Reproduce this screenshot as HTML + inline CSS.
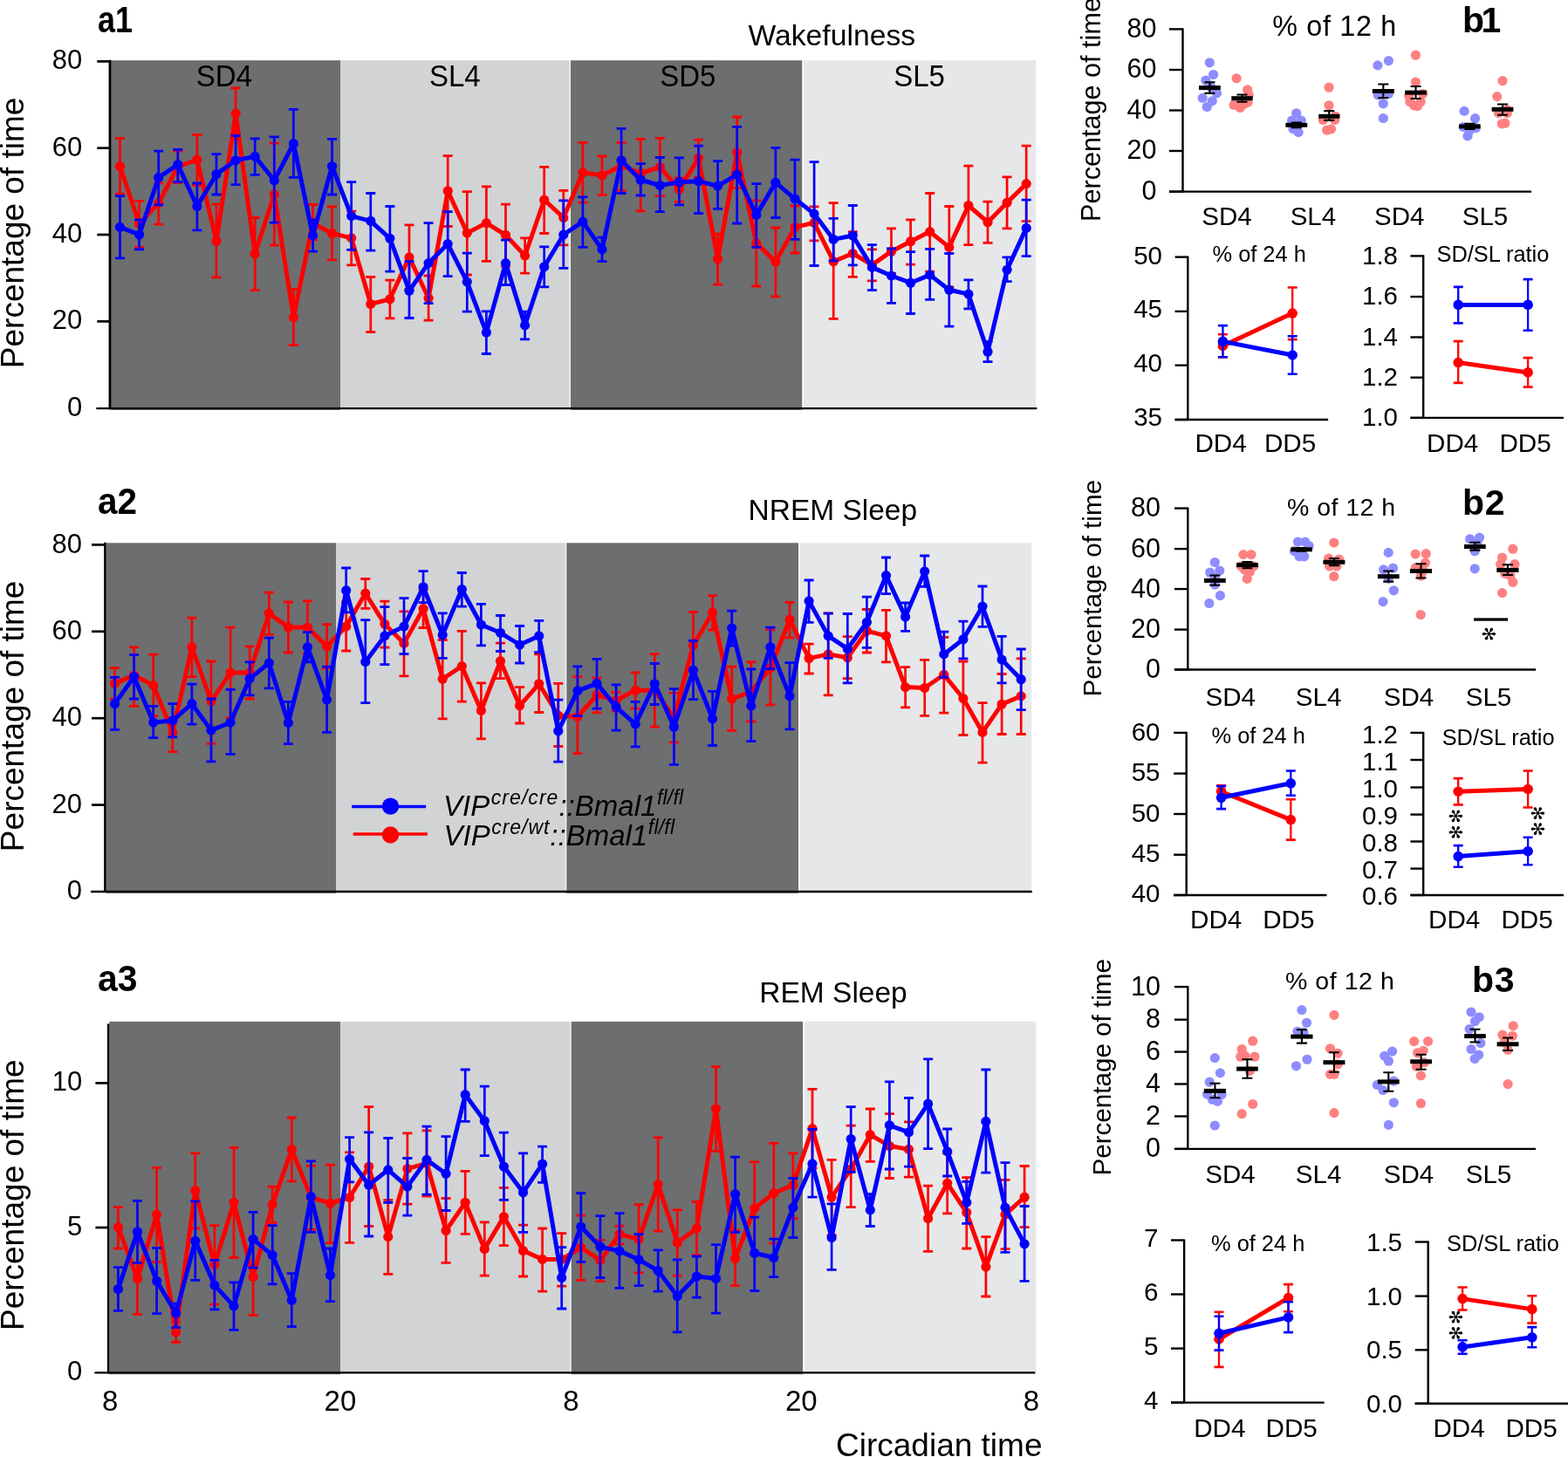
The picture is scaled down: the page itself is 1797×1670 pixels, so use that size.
<!DOCTYPE html>
<html><head><meta charset="utf-8"><title>Figure</title>
<style>html,body{margin:0;padding:0;background:#fff;overflow:hidden;}svg{display:block;}
text{font-family:'Liberation Sans', Arial, Helvetica, sans-serif;fill:#000;}</style></head>
<body><svg xmlns="http://www.w3.org/2000/svg" width="1797" height="1670" viewBox="0 0 1797 1670">
<rect x="0" y="0" width="1797" height="1670" fill="#fff"/>
<rect x="127.5" y="69.2" width="262.5" height="400.7" fill="#6d6e70"/>
<rect x="390" y="69.2" width="262.8" height="398.5" fill="#d1d3d4"/>
<rect x="652.8" y="69.2" width="1.1" height="398.5" fill="#fff"/>
<rect x="653.9" y="69.2" width="265.6" height="400.7" fill="#6d6e70"/>
<rect x="919.5" y="69.2" width="1.6" height="398.5" fill="#fff"/>
<rect x="921.1" y="69.2" width="266.2" height="398.5" fill="#e6e7e8"/>
<path d="M137.5 158.3V222.1M159.6 230.3V283.4M181.7 210V257.2M203.8 173.2V209.6M225.9 154.5V212.5M248 234.2V317.9M270.1 101V159M292.2 249.5V332.6M314.3 164.2V281.1M336.4 331.3V395.5M358.5 234.5V274.8M380.6 236.8V297.8M402.7 242.2V303.9M424.8 317.3V380.6M446.9 321.2V364.8M469 257.9V331.9M491.1 316V367.1M513.2 178.6V259.5M535.3 219.6V315M557.4 213.9V299.3M579.5 234.2V305.1M601.6 272.9V313.1M623.7 191.4V267.5M645.8 218.3V280.9M667.9 163.3V232.2M690 179V223.4M712.1 163.3V218.3M734.2 159.4V241.8M756.3 158.3V224.6M778.4 203.9V231.1M800.5 160.2V203.5M822.6 268.1V326.1M844.7 134V215.4M866.8 229.8V328M888.9 261V339.9M911 236V290M933.1 236.9V275.8M955.2 232.6V365.3M977.3 265.6V317.4M999.4 285.9V321.8M1021.5 261.8V313.5M1043.6 251.8V303.2M1065.7 221.5V311.2M1087.8 236.5V328.8M1109.9 190.1V280.6M1132 231.1V278.3M1154.1 202.9V261.8M1176.2 167.1V253.7" stroke="#ff0000" stroke-width="2.7" fill="none"/>
<path d="M132 158.3h11M132 222.1h11M154.1 230.3h11M154.1 283.4h11M176.2 210h11M176.2 257.2h11M198.3 173.2h11M198.3 209.6h11M220.4 154.5h11M220.4 212.5h11M242.5 234.2h11M242.5 317.9h11M264.6 101h11M264.6 159h11M286.7 249.5h11M286.7 332.6h11M308.8 164.2h11M308.8 281.1h11M330.9 331.3h11M330.9 395.5h11M353 234.5h11M353 274.8h11M375.1 236.8h11M375.1 297.8h11M397.2 242.2h11M397.2 303.9h11M419.3 317.3h11M419.3 380.6h11M441.4 321.2h11M441.4 364.8h11M463.5 257.9h11M463.5 331.9h11M485.6 316h11M485.6 367.1h11M507.7 178.6h11M507.7 259.5h11M529.8 219.6h11M529.8 315h11M551.9 213.9h11M551.9 299.3h11M574 234.2h11M574 305.1h11M596.1 272.9h11M596.1 313.1h11M618.2 191.4h11M618.2 267.5h11M640.3 218.3h11M640.3 280.9h11M662.4 163.3h11M662.4 232.2h11M684.5 179h11M684.5 223.4h11M706.6 163.3h11M706.6 218.3h11M728.7 159.4h11M728.7 241.8h11M750.8 158.3h11M750.8 224.6h11M772.9 203.9h11M772.9 231.1h11M795 160.2h11M795 203.5h11M817.1 268.1h11M817.1 326.1h11M839.2 134h11M839.2 215.4h11M861.3 229.8h11M861.3 328h11M883.4 261h11M883.4 339.9h11M905.5 236h11M905.5 290h11M927.6 236.9h11M927.6 275.8h11M949.7 232.6h11M949.7 365.3h11M971.8 265.6h11M971.8 317.4h11M993.9 285.9h11M993.9 321.8h11M1016 261.8h11M1016 313.5h11M1038.1 251.8h11M1038.1 303.2h11M1060.2 221.5h11M1060.2 311.2h11M1082.3 236.5h11M1082.3 328.8h11M1104.4 190.1h11M1104.4 280.6h11M1126.5 231.1h11M1126.5 278.3h11M1148.6 202.9h11M1148.6 261.8h11M1170.7 167.1h11M1170.7 253.7h11" stroke="#ff0000" stroke-width="2.8" fill="none"/>
<polyline points="137.5,190.5 159.6,256.6 181.7,232.6 203.8,191 225.9,183.2 248,276.3 270.1,130.1 292.2,291.1 314.3,222.7 336.4,363.9 358.5,255.6 380.6,267.5 402.7,272.9 424.8,348.5 446.9,342.8 469,294.9 491.1,341.8 513.2,218.8 535.3,267.1 557.4,255.6 579.5,269.4 601.6,293 623.7,229.2 645.8,249.5 667.9,197.8 690,201 712.1,190 734.2,198.5 756.3,191.4 778.4,217.3 800.5,181.3 822.6,296.8 844.7,174.8 866.8,278.6 888.9,300.1 911,260.4 933.1,255.3 955.2,299.7 977.3,290.5 999.4,303.6 1021.5,288.2 1043.6,276.7 1065.7,265.6 1087.8,283.4 1109.9,235.5 1132,254.7 1154.1,232.3 1176.2,210.6" stroke="#ff0000" stroke-width="5" fill="none" stroke-linejoin="round"/>
<circle cx="137.5" cy="190.5" r="5.6" fill="#ff0000"/>
<circle cx="159.6" cy="256.6" r="5.6" fill="#ff0000"/>
<circle cx="181.7" cy="232.6" r="5.6" fill="#ff0000"/>
<circle cx="203.8" cy="191" r="5.6" fill="#ff0000"/>
<circle cx="225.9" cy="183.2" r="5.6" fill="#ff0000"/>
<circle cx="248" cy="276.3" r="5.6" fill="#ff0000"/>
<circle cx="270.1" cy="130.1" r="5.6" fill="#ff0000"/>
<circle cx="292.2" cy="291.1" r="5.6" fill="#ff0000"/>
<circle cx="314.3" cy="222.7" r="5.6" fill="#ff0000"/>
<circle cx="336.4" cy="363.9" r="5.6" fill="#ff0000"/>
<circle cx="358.5" cy="255.6" r="5.6" fill="#ff0000"/>
<circle cx="380.6" cy="267.5" r="5.6" fill="#ff0000"/>
<circle cx="402.7" cy="272.9" r="5.6" fill="#ff0000"/>
<circle cx="424.8" cy="348.5" r="5.6" fill="#ff0000"/>
<circle cx="446.9" cy="342.8" r="5.6" fill="#ff0000"/>
<circle cx="469" cy="294.9" r="5.6" fill="#ff0000"/>
<circle cx="491.1" cy="341.8" r="5.6" fill="#ff0000"/>
<circle cx="513.2" cy="218.8" r="5.6" fill="#ff0000"/>
<circle cx="535.3" cy="267.1" r="5.6" fill="#ff0000"/>
<circle cx="557.4" cy="255.6" r="5.6" fill="#ff0000"/>
<circle cx="579.5" cy="269.4" r="5.6" fill="#ff0000"/>
<circle cx="601.6" cy="293" r="5.6" fill="#ff0000"/>
<circle cx="623.7" cy="229.2" r="5.6" fill="#ff0000"/>
<circle cx="645.8" cy="249.5" r="5.6" fill="#ff0000"/>
<circle cx="667.9" cy="197.8" r="5.6" fill="#ff0000"/>
<circle cx="690" cy="201" r="5.6" fill="#ff0000"/>
<circle cx="712.1" cy="190" r="5.6" fill="#ff0000"/>
<circle cx="734.2" cy="198.5" r="5.6" fill="#ff0000"/>
<circle cx="756.3" cy="191.4" r="5.6" fill="#ff0000"/>
<circle cx="778.4" cy="217.3" r="5.6" fill="#ff0000"/>
<circle cx="800.5" cy="181.3" r="5.6" fill="#ff0000"/>
<circle cx="822.6" cy="296.8" r="5.6" fill="#ff0000"/>
<circle cx="844.7" cy="174.8" r="5.6" fill="#ff0000"/>
<circle cx="866.8" cy="278.6" r="5.6" fill="#ff0000"/>
<circle cx="888.9" cy="300.1" r="5.6" fill="#ff0000"/>
<circle cx="911" cy="260.4" r="5.6" fill="#ff0000"/>
<circle cx="933.1" cy="255.3" r="5.6" fill="#ff0000"/>
<circle cx="955.2" cy="299.7" r="5.6" fill="#ff0000"/>
<circle cx="977.3" cy="290.5" r="5.6" fill="#ff0000"/>
<circle cx="999.4" cy="303.6" r="5.6" fill="#ff0000"/>
<circle cx="1021.5" cy="288.2" r="5.6" fill="#ff0000"/>
<circle cx="1043.6" cy="276.7" r="5.6" fill="#ff0000"/>
<circle cx="1065.7" cy="265.6" r="5.6" fill="#ff0000"/>
<circle cx="1087.8" cy="283.4" r="5.6" fill="#ff0000"/>
<circle cx="1109.9" cy="235.5" r="5.6" fill="#ff0000"/>
<circle cx="1132" cy="254.7" r="5.6" fill="#ff0000"/>
<circle cx="1154.1" cy="232.3" r="5.6" fill="#ff0000"/>
<circle cx="1176.2" cy="210.6" r="5.6" fill="#ff0000"/>
<path d="M137.5 224.6V295.9M159.6 251.8V285.9M181.7 173.2V234.9M203.8 171.3V208.7M225.9 210V263.9M248 176.7V223M270.1 155.6V211.6M292.2 158.9V200.4M314.3 156.9V255.2M336.4 125.3V203.3M358.5 251.8V288.2M380.6 159.4V223M402.7 208.7V286.3M424.8 221.5V287.2M446.9 236.5V311.2M469 299.7V364.5M491.1 255.6V347.6M513.2 242.6V316.6M535.3 290.1V357.2M557.4 356.8V405.5M579.5 275.2V326.5M601.6 357.2V388.8M623.7 282.8V328.8M645.8 229.8V307.4M667.9 225.9V283.4M690 272.1V299.7M712.1 147.4V221.5M734.2 187.6V224M756.3 180.5V242.6M778.4 180.9V234.9M800.5 167.1V244.5M822.6 184.7V239.3M844.7 145.4V256M866.8 210.6V283.4M888.9 169.4V249.5M911 183.2V274.4M933.1 185.7V304.5M955.2 250.3V298.8M977.3 235.5V303.9M999.4 280.6V332.7M1021.5 284.8V347.3M1043.6 288.6V359.5M1065.7 285.4V343.4M1087.8 290.5V374.1M1109.9 320.8V353.8M1132 391.7V414.7M1154.1 294.9V322.7M1176.2 229.2V293.6" stroke="#0000ff" stroke-width="2.7" fill="none"/>
<path d="M132 224.6h11M132 295.9h11M154.1 251.8h11M154.1 285.9h11M176.2 173.2h11M176.2 234.9h11M198.3 171.3h11M198.3 208.7h11M220.4 210h11M220.4 263.9h11M242.5 176.7h11M242.5 223h11M264.6 155.6h11M264.6 211.6h11M286.7 158.9h11M286.7 200.4h11M308.8 156.9h11M308.8 255.2h11M330.9 125.3h11M330.9 203.3h11M353 251.8h11M353 288.2h11M375.1 159.4h11M375.1 223h11M397.2 208.7h11M397.2 286.3h11M419.3 221.5h11M419.3 287.2h11M441.4 236.5h11M441.4 311.2h11M463.5 299.7h11M463.5 364.5h11M485.6 255.6h11M485.6 347.6h11M507.7 242.6h11M507.7 316.6h11M529.8 290.1h11M529.8 357.2h11M551.9 356.8h11M551.9 405.5h11M574 275.2h11M574 326.5h11M596.1 357.2h11M596.1 388.8h11M618.2 282.8h11M618.2 328.8h11M640.3 229.8h11M640.3 307.4h11M662.4 225.9h11M662.4 283.4h11M684.5 272.1h11M684.5 299.7h11M706.6 147.4h11M706.6 221.5h11M728.7 187.6h11M728.7 224h11M750.8 180.5h11M750.8 242.6h11M772.9 180.9h11M772.9 234.9h11M795 167.1h11M795 244.5h11M817.1 184.7h11M817.1 239.3h11M839.2 145.4h11M839.2 256h11M861.3 210.6h11M861.3 283.4h11M883.4 169.4h11M883.4 249.5h11M905.5 183.2h11M905.5 274.4h11M927.6 185.7h11M927.6 304.5h11M949.7 250.3h11M949.7 298.8h11M971.8 235.5h11M971.8 303.9h11M993.9 280.6h11M993.9 332.7h11M1016 284.8h11M1016 347.3h11M1038.1 288.6h11M1038.1 359.5h11M1060.2 285.4h11M1060.2 343.4h11M1082.3 290.5h11M1082.3 374.1h11M1104.4 320.8h11M1104.4 353.8h11M1126.5 391.7h11M1126.5 414.7h11M1148.6 294.9h11M1148.6 322.7h11M1170.7 229.2h11M1170.7 293.6h11" stroke="#0000ff" stroke-width="2.8" fill="none"/>
<polyline points="137.5,260.4 159.6,269 181.7,203.5 203.8,188.6 225.9,236.5 248,199.7 270.1,183.8 292.2,179.4 314.3,206.8 336.4,164.6 358.5,270 380.6,190.5 402.7,247.6 424.8,253.3 446.9,273.3 469,333.2 491.1,301.6 513.2,279.6 535.3,323.1 557.4,381.1 579.5,301.6 601.6,372.9 623.7,305.8 645.8,269 667.9,254.1 690,285.9 712.1,183.8 734.2,206.2 756.3,212.5 778.4,208.7 800.5,207.7 822.6,213.1 844.7,200.1 866.8,246.4 888.9,209.3 911,227.8 933.1,245.1 955.2,274.4 977.3,270 999.4,306.4 1021.5,316 1043.6,324.2 1065.7,315.1 1087.8,332.3 1109.9,337.1 1132,403.2 1154.1,309.3 1176.2,261.4" stroke="#0000ff" stroke-width="5" fill="none" stroke-linejoin="round"/>
<circle cx="137.5" cy="260.4" r="5.6" fill="#0000ff"/>
<circle cx="159.6" cy="269" r="5.6" fill="#0000ff"/>
<circle cx="181.7" cy="203.5" r="5.6" fill="#0000ff"/>
<circle cx="203.8" cy="188.6" r="5.6" fill="#0000ff"/>
<circle cx="225.9" cy="236.5" r="5.6" fill="#0000ff"/>
<circle cx="248" cy="199.7" r="5.6" fill="#0000ff"/>
<circle cx="270.1" cy="183.8" r="5.6" fill="#0000ff"/>
<circle cx="292.2" cy="179.4" r="5.6" fill="#0000ff"/>
<circle cx="314.3" cy="206.8" r="5.6" fill="#0000ff"/>
<circle cx="336.4" cy="164.6" r="5.6" fill="#0000ff"/>
<circle cx="358.5" cy="270" r="5.6" fill="#0000ff"/>
<circle cx="380.6" cy="190.5" r="5.6" fill="#0000ff"/>
<circle cx="402.7" cy="247.6" r="5.6" fill="#0000ff"/>
<circle cx="424.8" cy="253.3" r="5.6" fill="#0000ff"/>
<circle cx="446.9" cy="273.3" r="5.6" fill="#0000ff"/>
<circle cx="469" cy="333.2" r="5.6" fill="#0000ff"/>
<circle cx="491.1" cy="301.6" r="5.6" fill="#0000ff"/>
<circle cx="513.2" cy="279.6" r="5.6" fill="#0000ff"/>
<circle cx="535.3" cy="323.1" r="5.6" fill="#0000ff"/>
<circle cx="557.4" cy="381.1" r="5.6" fill="#0000ff"/>
<circle cx="579.5" cy="301.6" r="5.6" fill="#0000ff"/>
<circle cx="601.6" cy="372.9" r="5.6" fill="#0000ff"/>
<circle cx="623.7" cy="305.8" r="5.6" fill="#0000ff"/>
<circle cx="645.8" cy="269" r="5.6" fill="#0000ff"/>
<circle cx="667.9" cy="254.1" r="5.6" fill="#0000ff"/>
<circle cx="690" cy="285.9" r="5.6" fill="#0000ff"/>
<circle cx="712.1" cy="183.8" r="5.6" fill="#0000ff"/>
<circle cx="734.2" cy="206.2" r="5.6" fill="#0000ff"/>
<circle cx="756.3" cy="212.5" r="5.6" fill="#0000ff"/>
<circle cx="778.4" cy="208.7" r="5.6" fill="#0000ff"/>
<circle cx="800.5" cy="207.7" r="5.6" fill="#0000ff"/>
<circle cx="822.6" cy="213.1" r="5.6" fill="#0000ff"/>
<circle cx="844.7" cy="200.1" r="5.6" fill="#0000ff"/>
<circle cx="866.8" cy="246.4" r="5.6" fill="#0000ff"/>
<circle cx="888.9" cy="209.3" r="5.6" fill="#0000ff"/>
<circle cx="911" cy="227.8" r="5.6" fill="#0000ff"/>
<circle cx="933.1" cy="245.1" r="5.6" fill="#0000ff"/>
<circle cx="955.2" cy="274.4" r="5.6" fill="#0000ff"/>
<circle cx="977.3" cy="270" r="5.6" fill="#0000ff"/>
<circle cx="999.4" cy="306.4" r="5.6" fill="#0000ff"/>
<circle cx="1021.5" cy="316" r="5.6" fill="#0000ff"/>
<circle cx="1043.6" cy="324.2" r="5.6" fill="#0000ff"/>
<circle cx="1065.7" cy="315.1" r="5.6" fill="#0000ff"/>
<circle cx="1087.8" cy="332.3" r="5.6" fill="#0000ff"/>
<circle cx="1109.9" cy="337.1" r="5.6" fill="#0000ff"/>
<circle cx="1132" cy="403.2" r="5.6" fill="#0000ff"/>
<circle cx="1154.1" cy="309.3" r="5.6" fill="#0000ff"/>
<circle cx="1176.2" cy="261.4" r="5.6" fill="#0000ff"/>
<line x1="126.1" y1="68.7" x2="126.1" y2="469.2" stroke="#000" stroke-width="3"/>
<line x1="111.3" y1="468.1" x2="1187.4" y2="468.1" stroke="#000" stroke-width="2.4" stroke-linecap="round"/>
<line x1="111.3" y1="70.4" x2="126.1" y2="70.4" stroke="#000" stroke-width="2.7"/>
<line x1="111.3" y1="169.7" x2="126.1" y2="169.7" stroke="#000" stroke-width="2.7"/>
<line x1="111.3" y1="269" x2="126.1" y2="269" stroke="#000" stroke-width="2.7"/>
<line x1="111.3" y1="368.4" x2="126.1" y2="368.4" stroke="#000" stroke-width="2.7"/>
<text x="94.3" y="79.3" font-size="31" text-anchor="end">80</text>
<text x="94.3" y="178.6" font-size="31" text-anchor="end">60</text>
<text x="94.3" y="277.9" font-size="31" text-anchor="end">40</text>
<text x="94.3" y="377.3" font-size="31" text-anchor="end">20</text>
<text x="94.3" y="476.6" font-size="31" text-anchor="end">0</text>
<rect x="121.7" y="622.3" width="263.3" height="401.5" fill="#6d6e70"/>
<rect x="385" y="622.3" width="262.9" height="399.3" fill="#d1d3d4"/>
<rect x="647.9" y="622.3" width="1.4" height="399.3" fill="#f3f4f4"/>
<rect x="649.3" y="622.3" width="265.7" height="401.5" fill="#6d6e70"/>
<rect x="915" y="622.3" width="2" height="399.3" fill="#f6f6f6"/>
<rect x="917" y="622.3" width="265.2" height="399.3" fill="#e6e7e8"/>
<path d="M131.5 765.5V801M153.6 741.8V809.4M175.7 750.2V820.7M197.8 822.3V861.7M219.9 708.2V775.6M242 758V852.4M264.1 719.1V822.8M286.2 740.9V801M308.3 679.1V727.3M330.4 690V748M352.5 688.9V749.3M374.6 715.6V765.8M396.7 690V746M418.8 663.5V697.3M440.9 689.2V742.1M463 700.9V774.8M485.1 675.9V719.5M507.2 733.5V823.9M529.3 723.4V804.1M551.4 782.9V846.8M573.5 737.1V777.6M595.6 787.6V829M617.7 749.9V816.5M639.8 783.4V855.5M661.9 775.6V863.6M684 777.1V816.9M706.1 793.5V815M728.2 770.9V812.2M750.3 749.6V833.2M772.4 794.3V850.9M794.5 701.3V777.9M816.6 682.6V722.2M838.7 764.2V837.4M860.8 758.9V827M882.9 721.9V807.8M905 690.4V730.9M927.1 738.2V772M949.2 702.9V796.9M971.3 729.7V777.6M993.4 698.5V748M1015.5 699.3V758.9M1037.6 764.7V810.9M1059.7 756.4V820.3M1081.8 730.4V817.2M1103.9 758V842.5M1126 805.6V874.2M1148.1 772.5V841.5M1170.2 754.9V841.5" stroke="#ff0000" stroke-width="2.7" fill="none"/>
<path d="M126 765.5h11M126 801h11M148.1 741.8h11M148.1 809.4h11M170.2 750.2h11M170.2 820.7h11M192.3 822.3h11M192.3 861.7h11M214.4 708.2h11M214.4 775.6h11M236.5 758h11M236.5 852.4h11M258.6 719.1h11M258.6 822.8h11M280.7 740.9h11M280.7 801h11M302.8 679.1h11M302.8 727.3h11M324.9 690h11M324.9 748h11M347 688.9h11M347 749.3h11M369.1 715.6h11M369.1 765.8h11M391.2 690h11M391.2 746h11M413.3 663.5h11M413.3 697.3h11M435.4 689.2h11M435.4 742.1h11M457.5 700.9h11M457.5 774.8h11M479.6 675.9h11M479.6 719.5h11M501.7 733.5h11M501.7 823.9h11M523.8 723.4h11M523.8 804.1h11M545.9 782.9h11M545.9 846.8h11M568 737.1h11M568 777.6h11M590.1 787.6h11M590.1 829h11M612.2 749.9h11M612.2 816.5h11M634.3 783.4h11M634.3 855.5h11M656.4 775.6h11M656.4 863.6h11M678.5 777.1h11M678.5 816.9h11M700.6 793.5h11M700.6 815h11M722.7 770.9h11M722.7 812.2h11M744.8 749.6h11M744.8 833.2h11M766.9 794.3h11M766.9 850.9h11M789 701.3h11M789 777.9h11M811.1 682.6h11M811.1 722.2h11M833.2 764.2h11M833.2 837.4h11M855.3 758.9h11M855.3 827h11M877.4 721.9h11M877.4 807.8h11M899.5 690.4h11M899.5 730.9h11M921.6 738.2h11M921.6 772h11M943.7 702.9h11M943.7 796.9h11M965.8 729.7h11M965.8 777.6h11M987.9 698.5h11M987.9 748h11M1010 699.3h11M1010 758.9h11M1032.1 764.7h11M1032.1 810.9h11M1054.2 756.4h11M1054.2 820.3h11M1076.3 730.4h11M1076.3 817.2h11M1098.4 758h11M1098.4 842.5h11M1120.5 805.6h11M1120.5 874.2h11M1142.6 772.5h11M1142.6 841.5h11M1164.7 754.9h11M1164.7 841.5h11" stroke="#ff0000" stroke-width="2.8" fill="none"/>
<polyline points="131.5,783.4 153.6,774 175.7,785.4 197.8,839.4 219.9,741.8 242,804.1 264.1,770.9 286.2,770.9 308.3,702.9 330.4,719.1 352.5,719.1 374.6,740.9 396.7,718 418.8,680.1 440.9,715.3 463,737.4 485.1,697.7 507.2,778.2 529.3,763.6 551.4,814.5 573.5,757.7 595.6,808.8 617.7,783.8 639.8,820 661.9,821.5 684,796.6 706.1,802.8 728.2,791.2 750.3,791.2 772.4,822.6 794.5,739.8 816.6,701.9 838.7,801 860.8,792.9 882.9,765.5 905,710.2 927.1,754.6 949.2,749.9 971.3,753.8 993.4,723.1 1015.5,728.9 1037.6,787.6 1059.7,788.5 1081.8,773.3 1103.9,800.5 1126,839.4 1148.1,807.2 1170.2,797.9" stroke="#ff0000" stroke-width="5" fill="none" stroke-linejoin="round"/>
<circle cx="131.5" cy="783.4" r="5.6" fill="#ff0000"/>
<circle cx="153.6" cy="774" r="5.6" fill="#ff0000"/>
<circle cx="175.7" cy="785.4" r="5.6" fill="#ff0000"/>
<circle cx="197.8" cy="839.4" r="5.6" fill="#ff0000"/>
<circle cx="219.9" cy="741.8" r="5.6" fill="#ff0000"/>
<circle cx="242" cy="804.1" r="5.6" fill="#ff0000"/>
<circle cx="264.1" cy="770.9" r="5.6" fill="#ff0000"/>
<circle cx="286.2" cy="770.9" r="5.6" fill="#ff0000"/>
<circle cx="308.3" cy="702.9" r="5.6" fill="#ff0000"/>
<circle cx="330.4" cy="719.1" r="5.6" fill="#ff0000"/>
<circle cx="352.5" cy="719.1" r="5.6" fill="#ff0000"/>
<circle cx="374.6" cy="740.9" r="5.6" fill="#ff0000"/>
<circle cx="396.7" cy="718" r="5.6" fill="#ff0000"/>
<circle cx="418.8" cy="680.1" r="5.6" fill="#ff0000"/>
<circle cx="440.9" cy="715.3" r="5.6" fill="#ff0000"/>
<circle cx="463" cy="737.4" r="5.6" fill="#ff0000"/>
<circle cx="485.1" cy="697.7" r="5.6" fill="#ff0000"/>
<circle cx="507.2" cy="778.2" r="5.6" fill="#ff0000"/>
<circle cx="529.3" cy="763.6" r="5.6" fill="#ff0000"/>
<circle cx="551.4" cy="814.5" r="5.6" fill="#ff0000"/>
<circle cx="573.5" cy="757.7" r="5.6" fill="#ff0000"/>
<circle cx="595.6" cy="808.8" r="5.6" fill="#ff0000"/>
<circle cx="617.7" cy="783.8" r="5.6" fill="#ff0000"/>
<circle cx="639.8" cy="820" r="5.6" fill="#ff0000"/>
<circle cx="661.9" cy="821.5" r="5.6" fill="#ff0000"/>
<circle cx="684" cy="796.6" r="5.6" fill="#ff0000"/>
<circle cx="706.1" cy="802.8" r="5.6" fill="#ff0000"/>
<circle cx="728.2" cy="791.2" r="5.6" fill="#ff0000"/>
<circle cx="750.3" cy="791.2" r="5.6" fill="#ff0000"/>
<circle cx="772.4" cy="822.6" r="5.6" fill="#ff0000"/>
<circle cx="794.5" cy="739.8" r="5.6" fill="#ff0000"/>
<circle cx="816.6" cy="701.9" r="5.6" fill="#ff0000"/>
<circle cx="838.7" cy="801" r="5.6" fill="#ff0000"/>
<circle cx="860.8" cy="792.9" r="5.6" fill="#ff0000"/>
<circle cx="882.9" cy="765.5" r="5.6" fill="#ff0000"/>
<circle cx="905" cy="710.2" r="5.6" fill="#ff0000"/>
<circle cx="927.1" cy="754.6" r="5.6" fill="#ff0000"/>
<circle cx="949.2" cy="749.9" r="5.6" fill="#ff0000"/>
<circle cx="971.3" cy="753.8" r="5.6" fill="#ff0000"/>
<circle cx="993.4" cy="723.1" r="5.6" fill="#ff0000"/>
<circle cx="1015.5" cy="728.9" r="5.6" fill="#ff0000"/>
<circle cx="1037.6" cy="787.6" r="5.6" fill="#ff0000"/>
<circle cx="1059.7" cy="788.5" r="5.6" fill="#ff0000"/>
<circle cx="1081.8" cy="773.3" r="5.6" fill="#ff0000"/>
<circle cx="1103.9" cy="800.5" r="5.6" fill="#ff0000"/>
<circle cx="1126" cy="839.4" r="5.6" fill="#ff0000"/>
<circle cx="1148.1" cy="807.2" r="5.6" fill="#ff0000"/>
<circle cx="1170.2" cy="797.9" r="5.6" fill="#ff0000"/>
<path d="M131.5 776.4V836.3M153.6 750.7V801M175.7 809.4V845.7M197.8 806.7V844.9M219.9 784.2V830.1M242 801V872.9M264.1 790.4V864.3M286.2 758.9V796.9M308.3 731.2V788.8M330.4 804.4V852.7M352.5 724.7V758.9M374.6 764.2V839.4M396.7 651V701.9M418.8 710.7V805.6M440.9 695.7V761.6M463 685.7V749.6M485.1 654.6V690.7M507.2 702.9V754.3M529.3 656.5V695.1M551.4 692.3V739.8M573.5 705.5V746.5M595.6 717.5V760M617.7 711.3V747.6M639.8 802.1V873.2M661.9 763.9V820.7M684 755.3V812.2M706.1 784.9V837.1M728.2 804.4V855.8M750.3 760.5V807.5M772.4 789.6V876.3M794.5 734.3V801.6M816.6 792.3V854.5M838.7 700.1V740.2M860.8 767V849.6M882.9 719.1V766.7M905 759.6V835.9M927.1 665V713.3M949.2 703.2V754.3M971.3 703.5V782.9M993.4 684.2V742.4M1015.5 639V680.6M1037.6 691V723.4M1059.7 637V672.4M1081.8 724.2V776.4M1103.9 712.2V754.9M1126 672V718.4M1148.1 729.3V782.9M1170.2 744V813.7" stroke="#0000ff" stroke-width="2.7" fill="none"/>
<path d="M126 776.4h11M126 836.3h11M148.1 750.7h11M148.1 801h11M170.2 809.4h11M170.2 845.7h11M192.3 806.7h11M192.3 844.9h11M214.4 784.2h11M214.4 830.1h11M236.5 801h11M236.5 872.9h11M258.6 790.4h11M258.6 864.3h11M280.7 758.9h11M280.7 796.9h11M302.8 731.2h11M302.8 788.8h11M324.9 804.4h11M324.9 852.7h11M347 724.7h11M347 758.9h11M369.1 764.2h11M369.1 839.4h11M391.2 651h11M391.2 701.9h11M413.3 710.7h11M413.3 805.6h11M435.4 695.7h11M435.4 761.6h11M457.5 685.7h11M457.5 749.6h11M479.6 654.6h11M479.6 690.7h11M501.7 702.9h11M501.7 754.3h11M523.8 656.5h11M523.8 695.1h11M545.9 692.3h11M545.9 739.8h11M568 705.5h11M568 746.5h11M590.1 717.5h11M590.1 760h11M612.2 711.3h11M612.2 747.6h11M634.3 802.1h11M634.3 873.2h11M656.4 763.9h11M656.4 820.7h11M678.5 755.3h11M678.5 812.2h11M700.6 784.9h11M700.6 837.1h11M722.7 804.4h11M722.7 855.8h11M744.8 760.5h11M744.8 807.5h11M766.9 789.6h11M766.9 876.3h11M789 734.3h11M789 801.6h11M811.1 792.3h11M811.1 854.5h11M833.2 700.1h11M833.2 740.2h11M855.3 767h11M855.3 849.6h11M877.4 719.1h11M877.4 766.7h11M899.5 759.6h11M899.5 835.9h11M921.6 665h11M921.6 713.3h11M943.7 703.2h11M943.7 754.3h11M965.8 703.5h11M965.8 782.9h11M987.9 684.2h11M987.9 742.4h11M1010 639h11M1010 680.6h11M1032.1 691h11M1032.1 723.4h11M1054.2 637h11M1054.2 672.4h11M1076.3 724.2h11M1076.3 776.4h11M1098.4 712.2h11M1098.4 754.9h11M1120.5 672h11M1120.5 718.4h11M1142.6 729.3h11M1142.6 782.9h11M1164.7 744h11M1164.7 813.7h11" stroke="#0000ff" stroke-width="2.8" fill="none"/>
<polyline points="131.5,806.7 153.6,775.6 175.7,828.1 197.8,825.9 219.9,806.7 242,837.1 264.1,828.1 286.2,777.9 308.3,760 330.4,828.5 352.5,741.8 374.6,802.1 396.7,676.7 418.8,758.5 440.9,728.9 463,718 485.1,672.8 507.2,727.8 529.3,675.5 551.4,716 573.5,725.3 595.6,739 617.7,728.9 639.8,837.9 661.9,791.9 684,783.4 706.1,810.3 728.2,830.1 750.3,783.8 772.4,833.2 794.5,768.3 816.6,823.9 838.7,720 860.8,809.1 882.9,741.8 905,797.9 927.1,688.9 949.2,728.9 971.3,743.7 993.4,713.3 1015.5,659.6 1037.6,707.1 1059.7,654.9 1081.8,749.9 1103.9,732.8 1126,695.1 1148.1,756.1 1170.2,778.7" stroke="#0000ff" stroke-width="5" fill="none" stroke-linejoin="round"/>
<circle cx="131.5" cy="806.7" r="5.6" fill="#0000ff"/>
<circle cx="153.6" cy="775.6" r="5.6" fill="#0000ff"/>
<circle cx="175.7" cy="828.1" r="5.6" fill="#0000ff"/>
<circle cx="197.8" cy="825.9" r="5.6" fill="#0000ff"/>
<circle cx="219.9" cy="806.7" r="5.6" fill="#0000ff"/>
<circle cx="242" cy="837.1" r="5.6" fill="#0000ff"/>
<circle cx="264.1" cy="828.1" r="5.6" fill="#0000ff"/>
<circle cx="286.2" cy="777.9" r="5.6" fill="#0000ff"/>
<circle cx="308.3" cy="760" r="5.6" fill="#0000ff"/>
<circle cx="330.4" cy="828.5" r="5.6" fill="#0000ff"/>
<circle cx="352.5" cy="741.8" r="5.6" fill="#0000ff"/>
<circle cx="374.6" cy="802.1" r="5.6" fill="#0000ff"/>
<circle cx="396.7" cy="676.7" r="5.6" fill="#0000ff"/>
<circle cx="418.8" cy="758.5" r="5.6" fill="#0000ff"/>
<circle cx="440.9" cy="728.9" r="5.6" fill="#0000ff"/>
<circle cx="463" cy="718" r="5.6" fill="#0000ff"/>
<circle cx="485.1" cy="672.8" r="5.6" fill="#0000ff"/>
<circle cx="507.2" cy="727.8" r="5.6" fill="#0000ff"/>
<circle cx="529.3" cy="675.5" r="5.6" fill="#0000ff"/>
<circle cx="551.4" cy="716" r="5.6" fill="#0000ff"/>
<circle cx="573.5" cy="725.3" r="5.6" fill="#0000ff"/>
<circle cx="595.6" cy="739" r="5.6" fill="#0000ff"/>
<circle cx="617.7" cy="728.9" r="5.6" fill="#0000ff"/>
<circle cx="639.8" cy="837.9" r="5.6" fill="#0000ff"/>
<circle cx="661.9" cy="791.9" r="5.6" fill="#0000ff"/>
<circle cx="684" cy="783.4" r="5.6" fill="#0000ff"/>
<circle cx="706.1" cy="810.3" r="5.6" fill="#0000ff"/>
<circle cx="728.2" cy="830.1" r="5.6" fill="#0000ff"/>
<circle cx="750.3" cy="783.8" r="5.6" fill="#0000ff"/>
<circle cx="772.4" cy="833.2" r="5.6" fill="#0000ff"/>
<circle cx="794.5" cy="768.3" r="5.6" fill="#0000ff"/>
<circle cx="816.6" cy="823.9" r="5.6" fill="#0000ff"/>
<circle cx="838.7" cy="720" r="5.6" fill="#0000ff"/>
<circle cx="860.8" cy="809.1" r="5.6" fill="#0000ff"/>
<circle cx="882.9" cy="741.8" r="5.6" fill="#0000ff"/>
<circle cx="905" cy="797.9" r="5.6" fill="#0000ff"/>
<circle cx="927.1" cy="688.9" r="5.6" fill="#0000ff"/>
<circle cx="949.2" cy="728.9" r="5.6" fill="#0000ff"/>
<circle cx="971.3" cy="743.7" r="5.6" fill="#0000ff"/>
<circle cx="993.4" cy="713.3" r="5.6" fill="#0000ff"/>
<circle cx="1015.5" cy="659.6" r="5.6" fill="#0000ff"/>
<circle cx="1037.6" cy="707.1" r="5.6" fill="#0000ff"/>
<circle cx="1059.7" cy="654.9" r="5.6" fill="#0000ff"/>
<circle cx="1081.8" cy="749.9" r="5.6" fill="#0000ff"/>
<circle cx="1103.9" cy="732.8" r="5.6" fill="#0000ff"/>
<circle cx="1126" cy="695.1" r="5.6" fill="#0000ff"/>
<circle cx="1148.1" cy="756.1" r="5.6" fill="#0000ff"/>
<circle cx="1170.2" cy="778.7" r="5.6" fill="#0000ff"/>
<line x1="120.45" y1="621.8" x2="120.45" y2="1023.1" stroke="#000" stroke-width="2.6"/>
<line x1="105" y1="1022" x2="1181.9" y2="1022" stroke="#000" stroke-width="2.4" stroke-linecap="round"/>
<line x1="105" y1="624.4" x2="120.45" y2="624.4" stroke="#000" stroke-width="2.7"/>
<line x1="105" y1="723.8" x2="120.45" y2="723.8" stroke="#000" stroke-width="2.7"/>
<line x1="105" y1="823.2" x2="120.45" y2="823.2" stroke="#000" stroke-width="2.7"/>
<line x1="105" y1="922.6" x2="120.45" y2="922.6" stroke="#000" stroke-width="2.7"/>
<text x="94" y="633.6" font-size="31" text-anchor="end">80</text>
<text x="94" y="733" font-size="31" text-anchor="end">60</text>
<text x="94" y="832.4" font-size="31" text-anchor="end">40</text>
<text x="94" y="931.8" font-size="31" text-anchor="end">20</text>
<text x="94" y="1030.8" font-size="31" text-anchor="end">0</text>
<rect x="125.3" y="1170.9" width="264.9" height="404.3" fill="#6d6e70"/>
<rect x="390.2" y="1170.9" width="262.7" height="402.1" fill="#d1d3d4"/>
<rect x="652.9" y="1170.9" width="1.9" height="402.1" fill="#e8e9ea"/>
<rect x="654.8" y="1170.9" width="265.4" height="404.3" fill="#6d6e70"/>
<rect x="920.2" y="1170.9" width="2" height="402.1" fill="#fff"/>
<rect x="922.2" y="1170.9" width="265.3" height="402.1" fill="#e6e7e8"/>
<path d="M135.4 1383.6V1431M157.5 1425.2V1506.3M179.6 1338.4V1446.3M201.7 1515.3V1538.3M223.8 1321.8V1408M245.9 1404.7V1495.2M268 1315.4V1441.5M290.1 1419.5V1507.6M312.2 1360.1V1401.3M334.3 1281V1353.8M356.4 1336.1V1409.3M378.5 1335.2V1424.7M400.6 1320.8V1424.3M422.7 1268.7V1405.5M444.8 1375.4V1460.3M466.9 1298.8V1380.2M489 1295.9V1371M511.1 1373.5V1447.3M533.2 1342.3V1414.3M555.3 1400.9V1462.2M577.4 1361.4V1427.7M599.5 1404.2V1463M621.6 1408V1480.2M643.7 1413.7V1474.1M665.8 1393.2V1467.4M687.9 1421.4V1468.7M710 1405.1V1425.8M732.1 1380.6V1458.8M754.2 1303.9V1411.2M776.3 1386.9V1462.2M798.4 1377.3V1438.6M820.5 1222.7V1319.3M842.6 1410.5V1473.7M864.7 1331.9V1437.7M886.8 1310.3V1425.2M908.9 1321.8V1396.5M931 1248.4V1338.8M953.1 1329.4V1415.7M975.2 1290.2V1383.7M997.3 1271V1331.4M1019.4 1276.7V1350.5M1041.5 1285.9V1349.2M1063.6 1359.2V1434.3M1085.7 1321.8V1390.8M1107.8 1349.6V1431M1129.9 1417.6V1486M1152 1352.4V1431.6M1174.1 1336.5V1406.7" stroke="#ff0000" stroke-width="2.7" fill="none"/>
<path d="M129.9 1383.6h11M129.9 1431h11M152 1425.2h11M152 1506.3h11M174.1 1338.4h11M174.1 1446.3h11M196.2 1515.3h11M196.2 1538.3h11M218.3 1321.8h11M218.3 1408h11M240.4 1404.7h11M240.4 1495.2h11M262.5 1315.4h11M262.5 1441.5h11M284.6 1419.5h11M284.6 1507.6h11M306.7 1360.1h11M306.7 1401.3h11M328.8 1281h11M328.8 1353.8h11M350.9 1336.1h11M350.9 1409.3h11M373 1335.2h11M373 1424.7h11M395.1 1320.8h11M395.1 1424.3h11M417.2 1268.7h11M417.2 1405.5h11M439.3 1375.4h11M439.3 1460.3h11M461.4 1298.8h11M461.4 1380.2h11M483.5 1295.9h11M483.5 1371h11M505.6 1373.5h11M505.6 1447.3h11M527.7 1342.3h11M527.7 1414.3h11M549.8 1400.9h11M549.8 1462.2h11M571.9 1361.4h11M571.9 1427.7h11M594 1404.2h11M594 1463h11M616.1 1408h11M616.1 1480.2h11M638.2 1413.7h11M638.2 1474.1h11M660.3 1393.2h11M660.3 1467.4h11M682.4 1421.4h11M682.4 1468.7h11M704.5 1405.1h11M704.5 1425.8h11M726.6 1380.6h11M726.6 1458.8h11M748.7 1303.9h11M748.7 1411.2h11M770.8 1386.9h11M770.8 1462.2h11M792.9 1377.3h11M792.9 1438.6h11M815 1222.7h11M815 1319.3h11M837.1 1410.5h11M837.1 1473.7h11M859.2 1331.9h11M859.2 1437.7h11M881.3 1310.3h11M881.3 1425.2h11M903.4 1321.8h11M903.4 1396.5h11M925.5 1248.4h11M925.5 1338.8h11M947.6 1329.4h11M947.6 1415.7h11M969.7 1290.2h11M969.7 1383.7h11M991.8 1271h11M991.8 1331.4h11M1013.9 1276.7h11M1013.9 1350.5h11M1036 1285.9h11M1036 1349.2h11M1058.1 1359.2h11M1058.1 1434.3h11M1080.2 1321.8h11M1080.2 1390.8h11M1102.3 1349.6h11M1102.3 1431h11M1124.4 1417.6h11M1124.4 1486h11M1146.5 1352.4h11M1146.5 1431.6h11M1168.6 1336.5h11M1168.6 1406.7h11" stroke="#ff0000" stroke-width="2.8" fill="none"/>
<polyline points="135.4,1406.6 157.5,1465.5 179.6,1392.1 201.7,1526.8 223.8,1364.5 245.9,1449.6 268,1378.3 290.1,1463.6 312.2,1380.6 334.3,1317.4 356.4,1372.5 378.5,1379.2 400.6,1372.5 422.7,1337.1 444.8,1417.6 466.9,1339.6 489,1333.3 511.1,1410.5 533.2,1378.3 555.3,1431.6 577.4,1394.6 599.5,1433.5 621.6,1443.4 643.7,1443.4 665.8,1430 687.9,1444.4 710,1414.7 732.1,1420.4 754.2,1357.6 776.3,1424.3 798.4,1408 820.5,1271 842.6,1442.5 864.7,1385 886.8,1367.7 908.9,1358.2 931,1293.6 953.1,1372.2 975.2,1340 997.3,1300.7 1019.4,1313.5 1041.5,1317.4 1063.6,1396.5 1085.7,1356.3 1107.8,1389.8 1129.9,1452.1 1152,1392.1 1174.1,1372.2" stroke="#ff0000" stroke-width="5" fill="none" stroke-linejoin="round"/>
<circle cx="135.4" cy="1406.6" r="5.6" fill="#ff0000"/>
<circle cx="157.5" cy="1465.5" r="5.6" fill="#ff0000"/>
<circle cx="179.6" cy="1392.1" r="5.6" fill="#ff0000"/>
<circle cx="201.7" cy="1526.8" r="5.6" fill="#ff0000"/>
<circle cx="223.8" cy="1364.5" r="5.6" fill="#ff0000"/>
<circle cx="245.9" cy="1449.6" r="5.6" fill="#ff0000"/>
<circle cx="268" cy="1378.3" r="5.6" fill="#ff0000"/>
<circle cx="290.1" cy="1463.6" r="5.6" fill="#ff0000"/>
<circle cx="312.2" cy="1380.6" r="5.6" fill="#ff0000"/>
<circle cx="334.3" cy="1317.4" r="5.6" fill="#ff0000"/>
<circle cx="356.4" cy="1372.5" r="5.6" fill="#ff0000"/>
<circle cx="378.5" cy="1379.2" r="5.6" fill="#ff0000"/>
<circle cx="400.6" cy="1372.5" r="5.6" fill="#ff0000"/>
<circle cx="422.7" cy="1337.1" r="5.6" fill="#ff0000"/>
<circle cx="444.8" cy="1417.6" r="5.6" fill="#ff0000"/>
<circle cx="466.9" cy="1339.6" r="5.6" fill="#ff0000"/>
<circle cx="489" cy="1333.3" r="5.6" fill="#ff0000"/>
<circle cx="511.1" cy="1410.5" r="5.6" fill="#ff0000"/>
<circle cx="533.2" cy="1378.3" r="5.6" fill="#ff0000"/>
<circle cx="555.3" cy="1431.6" r="5.6" fill="#ff0000"/>
<circle cx="577.4" cy="1394.6" r="5.6" fill="#ff0000"/>
<circle cx="599.5" cy="1433.5" r="5.6" fill="#ff0000"/>
<circle cx="621.6" cy="1443.4" r="5.6" fill="#ff0000"/>
<circle cx="643.7" cy="1443.4" r="5.6" fill="#ff0000"/>
<circle cx="665.8" cy="1430" r="5.6" fill="#ff0000"/>
<circle cx="687.9" cy="1444.4" r="5.6" fill="#ff0000"/>
<circle cx="710" cy="1414.7" r="5.6" fill="#ff0000"/>
<circle cx="732.1" cy="1420.4" r="5.6" fill="#ff0000"/>
<circle cx="754.2" cy="1357.6" r="5.6" fill="#ff0000"/>
<circle cx="776.3" cy="1424.3" r="5.6" fill="#ff0000"/>
<circle cx="798.4" cy="1408" r="5.6" fill="#ff0000"/>
<circle cx="820.5" cy="1271" r="5.6" fill="#ff0000"/>
<circle cx="842.6" cy="1442.5" r="5.6" fill="#ff0000"/>
<circle cx="864.7" cy="1385" r="5.6" fill="#ff0000"/>
<circle cx="886.8" cy="1367.7" r="5.6" fill="#ff0000"/>
<circle cx="908.9" cy="1358.2" r="5.6" fill="#ff0000"/>
<circle cx="931" cy="1293.6" r="5.6" fill="#ff0000"/>
<circle cx="953.1" cy="1372.2" r="5.6" fill="#ff0000"/>
<circle cx="975.2" cy="1340" r="5.6" fill="#ff0000"/>
<circle cx="997.3" cy="1300.7" r="5.6" fill="#ff0000"/>
<circle cx="1019.4" cy="1313.5" r="5.6" fill="#ff0000"/>
<circle cx="1041.5" cy="1317.4" r="5.6" fill="#ff0000"/>
<circle cx="1063.6" cy="1396.5" r="5.6" fill="#ff0000"/>
<circle cx="1085.7" cy="1356.3" r="5.6" fill="#ff0000"/>
<circle cx="1107.8" cy="1389.8" r="5.6" fill="#ff0000"/>
<circle cx="1129.9" cy="1452.1" r="5.6" fill="#ff0000"/>
<circle cx="1152" cy="1392.1" r="5.6" fill="#ff0000"/>
<circle cx="1174.1" cy="1372.2" r="5.6" fill="#ff0000"/>
<path d="M135.4 1452.6V1502.4M157.5 1376.4V1447.6M179.6 1430.4V1505.7M201.7 1494.2V1521.6M223.8 1376.8V1467.4M245.9 1444.4V1500.9M268 1469.9V1524.3M290.1 1389.4V1453M312.2 1404.7V1471.8M334.3 1459.7V1520.5M356.4 1330.8V1412.4M378.5 1431V1491.7M400.6 1303.6V1354.9M422.7 1297.8V1417M444.8 1304.5V1378.3M466.9 1327.5V1393.2M489 1291.1V1369.1M511.1 1302.6V1387.5M533.2 1226V1285.4M555.3 1245.1V1324.6M577.4 1298.2V1375.4M599.5 1321.8V1412.4M621.6 1314.1V1355.3M643.7 1429.6V1500M665.8 1367.7V1446.3M687.9 1393.6V1464.5M710 1390.7V1476.4M732.1 1414.7V1473.7M754.2 1432.9V1480.2M776.3 1443.8V1526.8M798.4 1440V1487.1M820.5 1426.6V1505.1M842.6 1326.2V1412.4M864.7 1395.1V1479.5M886.8 1420.1V1463.6M908.9 1350.5V1418.5M931 1294.4V1372.2M953.1 1379.8V1455.4M975.2 1268.7V1343.4M997.3 1368.7V1405.5M1019.4 1239.9V1340M1041.5 1258.5V1337.1M1063.6 1213.8V1316.6M1085.7 1294V1348M1107.8 1354.4V1402.3M1129.9 1226V1344.2M1152 1332.7V1435.4M1174.1 1382.5V1468.4" stroke="#0000ff" stroke-width="2.7" fill="none"/>
<path d="M129.9 1452.6h11M129.9 1502.4h11M152 1376.4h11M152 1447.6h11M174.1 1430.4h11M174.1 1505.7h11M196.2 1494.2h11M196.2 1521.6h11M218.3 1376.8h11M218.3 1467.4h11M240.4 1444.4h11M240.4 1500.9h11M262.5 1469.9h11M262.5 1524.3h11M284.6 1389.4h11M284.6 1453h11M306.7 1404.7h11M306.7 1471.8h11M328.8 1459.7h11M328.8 1520.5h11M350.9 1330.8h11M350.9 1412.4h11M373 1431h11M373 1491.7h11M395.1 1303.6h11M395.1 1354.9h11M417.2 1297.8h11M417.2 1417h11M439.3 1304.5h11M439.3 1378.3h11M461.4 1327.5h11M461.4 1393.2h11M483.5 1291.1h11M483.5 1369.1h11M505.6 1302.6h11M505.6 1387.5h11M527.7 1226h11M527.7 1285.4h11M549.8 1245.1h11M549.8 1324.6h11M571.9 1298.2h11M571.9 1375.4h11M594 1321.8h11M594 1412.4h11M616.1 1314.1h11M616.1 1355.3h11M638.2 1429.6h11M638.2 1500h11M660.3 1367.7h11M660.3 1446.3h11M682.4 1393.6h11M682.4 1464.5h11M704.5 1390.7h11M704.5 1476.4h11M726.6 1414.7h11M726.6 1473.7h11M748.7 1432.9h11M748.7 1480.2h11M770.8 1443.8h11M770.8 1526.8h11M792.9 1440h11M792.9 1487.1h11M815 1426.6h11M815 1505.1h11M837.1 1326.2h11M837.1 1412.4h11M859.2 1395.1h11M859.2 1479.5h11M881.3 1420.1h11M881.3 1463.6h11M903.4 1350.5h11M903.4 1418.5h11M925.5 1294.4h11M925.5 1372.2h11M947.6 1379.8h11M947.6 1455.4h11M969.7 1268.7h11M969.7 1343.4h11M991.8 1368.7h11M991.8 1405.5h11M1013.9 1239.9h11M1013.9 1340h11M1036 1258.5h11M1036 1337.1h11M1058.1 1213.8h11M1058.1 1316.6h11M1080.2 1294h11M1080.2 1348h11M1102.3 1354.4h11M1102.3 1402.3h11M1124.4 1226h11M1124.4 1344.2h11M1146.5 1332.7h11M1146.5 1435.4h11M1168.6 1382.5h11M1168.6 1468.4h11" stroke="#0000ff" stroke-width="2.8" fill="none"/>
<polyline points="135.4,1477.5 157.5,1411.8 179.6,1468.3 201.7,1505.1 223.8,1422.4 245.9,1473.1 268,1497.1 290.1,1420.4 312.2,1438.6 334.3,1490.4 356.4,1371.6 378.5,1461.6 400.6,1328.5 422.7,1358.2 444.8,1340.9 466.9,1360.1 489,1329.4 511.1,1345.3 533.2,1254.7 555.3,1284.8 577.4,1337.1 599.5,1366.8 621.6,1334.2 643.7,1464.5 665.8,1406.1 687.9,1429.1 710,1433.9 732.1,1443.8 754.2,1456.5 776.3,1485.6 798.4,1463 820.5,1465.5 842.6,1368.7 864.7,1436.2 886.8,1441.5 908.9,1384 931,1333.9 953.1,1418.6 975.2,1305.5 997.3,1386.9 1019.4,1289.8 1041.5,1297.8 1063.6,1265.2 1085.7,1319.9 1107.8,1378.3 1129.9,1285.4 1152,1384.1 1174.1,1425.8" stroke="#0000ff" stroke-width="5" fill="none" stroke-linejoin="round"/>
<circle cx="135.4" cy="1477.5" r="5.6" fill="#0000ff"/>
<circle cx="157.5" cy="1411.8" r="5.6" fill="#0000ff"/>
<circle cx="179.6" cy="1468.3" r="5.6" fill="#0000ff"/>
<circle cx="201.7" cy="1505.1" r="5.6" fill="#0000ff"/>
<circle cx="223.8" cy="1422.4" r="5.6" fill="#0000ff"/>
<circle cx="245.9" cy="1473.1" r="5.6" fill="#0000ff"/>
<circle cx="268" cy="1497.1" r="5.6" fill="#0000ff"/>
<circle cx="290.1" cy="1420.4" r="5.6" fill="#0000ff"/>
<circle cx="312.2" cy="1438.6" r="5.6" fill="#0000ff"/>
<circle cx="334.3" cy="1490.4" r="5.6" fill="#0000ff"/>
<circle cx="356.4" cy="1371.6" r="5.6" fill="#0000ff"/>
<circle cx="378.5" cy="1461.6" r="5.6" fill="#0000ff"/>
<circle cx="400.6" cy="1328.5" r="5.6" fill="#0000ff"/>
<circle cx="422.7" cy="1358.2" r="5.6" fill="#0000ff"/>
<circle cx="444.8" cy="1340.9" r="5.6" fill="#0000ff"/>
<circle cx="466.9" cy="1360.1" r="5.6" fill="#0000ff"/>
<circle cx="489" cy="1329.4" r="5.6" fill="#0000ff"/>
<circle cx="511.1" cy="1345.3" r="5.6" fill="#0000ff"/>
<circle cx="533.2" cy="1254.7" r="5.6" fill="#0000ff"/>
<circle cx="555.3" cy="1284.8" r="5.6" fill="#0000ff"/>
<circle cx="577.4" cy="1337.1" r="5.6" fill="#0000ff"/>
<circle cx="599.5" cy="1366.8" r="5.6" fill="#0000ff"/>
<circle cx="621.6" cy="1334.2" r="5.6" fill="#0000ff"/>
<circle cx="643.7" cy="1464.5" r="5.6" fill="#0000ff"/>
<circle cx="665.8" cy="1406.1" r="5.6" fill="#0000ff"/>
<circle cx="687.9" cy="1429.1" r="5.6" fill="#0000ff"/>
<circle cx="710" cy="1433.9" r="5.6" fill="#0000ff"/>
<circle cx="732.1" cy="1443.8" r="5.6" fill="#0000ff"/>
<circle cx="754.2" cy="1456.5" r="5.6" fill="#0000ff"/>
<circle cx="776.3" cy="1485.6" r="5.6" fill="#0000ff"/>
<circle cx="798.4" cy="1463" r="5.6" fill="#0000ff"/>
<circle cx="820.5" cy="1465.5" r="5.6" fill="#0000ff"/>
<circle cx="842.6" cy="1368.7" r="5.6" fill="#0000ff"/>
<circle cx="864.7" cy="1436.2" r="5.6" fill="#0000ff"/>
<circle cx="886.8" cy="1441.5" r="5.6" fill="#0000ff"/>
<circle cx="908.9" cy="1384" r="5.6" fill="#0000ff"/>
<circle cx="931" cy="1333.9" r="5.6" fill="#0000ff"/>
<circle cx="953.1" cy="1418.6" r="5.6" fill="#0000ff"/>
<circle cx="975.2" cy="1305.5" r="5.6" fill="#0000ff"/>
<circle cx="997.3" cy="1386.9" r="5.6" fill="#0000ff"/>
<circle cx="1019.4" cy="1289.8" r="5.6" fill="#0000ff"/>
<circle cx="1041.5" cy="1297.8" r="5.6" fill="#0000ff"/>
<circle cx="1063.6" cy="1265.2" r="5.6" fill="#0000ff"/>
<circle cx="1085.7" cy="1319.9" r="5.6" fill="#0000ff"/>
<circle cx="1107.8" cy="1378.3" r="5.6" fill="#0000ff"/>
<circle cx="1129.9" cy="1285.4" r="5.6" fill="#0000ff"/>
<circle cx="1152" cy="1384.1" r="5.6" fill="#0000ff"/>
<circle cx="1174.1" cy="1425.8" r="5.6" fill="#0000ff"/>
<line x1="124.15" y1="1173.4" x2="124.15" y2="1574.5" stroke="#000" stroke-width="2.5"/>
<line x1="109.4" y1="1573.4" x2="1185.4" y2="1573.4" stroke="#000" stroke-width="2.4" stroke-linecap="round"/>
<line x1="109.4" y1="1241.4" x2="124.15" y2="1241.4" stroke="#000" stroke-width="2.7"/>
<line x1="109.4" y1="1407" x2="124.15" y2="1407" stroke="#000" stroke-width="2.7"/>
<text x="94.3" y="1250.3" font-size="31" text-anchor="end">10</text>
<text x="94.3" y="1415.9" font-size="31" text-anchor="end">5</text>
<text x="94.3" y="1581.5" font-size="31" text-anchor="end">0</text>
<text x="0" y="0" font-size="33" text-anchor="middle" transform="translate(256.9 98.8) scale(1 1.07)">SD4</text>
<text x="0" y="0" font-size="33" text-anchor="middle" transform="translate(521.3 98.8) scale(1 1.07)">SL4</text>
<text x="0" y="0" font-size="33" text-anchor="middle" transform="translate(788.3 98.8) scale(1 1.07)">SD5</text>
<text x="0" y="0" font-size="33" text-anchor="middle" transform="translate(1053.6 98.8) scale(1 1.07)">SL5</text>
<text x="857.5" y="52" font-size="33.7">Wakefulness</text>
<text x="857.5" y="596" font-size="33.5">NREM Sleep</text>
<text x="870.3" y="1148.9" font-size="33.5">REM Sleep</text>
<text x="112" y="36.8" font-size="42" font-weight="bold" textLength="40" lengthAdjust="spacingAndGlyphs">a1</text>
<text x="112" y="589.4" font-size="42" font-weight="bold" textLength="45" lengthAdjust="spacingAndGlyphs">a2</text>
<text x="112" y="1136.2" font-size="42" font-weight="bold" textLength="45.5" lengthAdjust="spacingAndGlyphs">a3</text>
<text x="0" y="0" font-size="37" text-anchor="middle" transform="translate(26.8 266.9) rotate(-90)">Percentage of time</text>
<text x="0" y="0" font-size="37" text-anchor="middle" transform="translate(26.8 820.85) rotate(-90)">Percentage of time</text>
<text x="0" y="0" font-size="37" text-anchor="middle" transform="translate(26.8 1369.75) rotate(-90)">Percentage of time</text>
<text x="126.2" y="1617.3" font-size="33" text-anchor="middle">8</text>
<text x="389.9" y="1617.3" font-size="33" text-anchor="middle">20</text>
<text x="654.5" y="1617.3" font-size="33" text-anchor="middle">8</text>
<text x="918.3" y="1617.3" font-size="33" text-anchor="middle">20</text>
<text x="1182" y="1617.3" font-size="33" text-anchor="middle">8</text>
<text x="1194.5" y="1668.5" font-size="37" text-anchor="end">Circadian time</text>
<line x1="403.2" y1="924.5" x2="488.1" y2="924.5" stroke="#0000ff" stroke-width="3.3"/>
<circle cx="447.5" cy="924.1" r="9.7" fill="#0000ff"/>
<line x1="404.8" y1="956" x2="489.9" y2="956" stroke="#ff0000" stroke-width="3.3"/>
<circle cx="447.5" cy="957" r="9.7" fill="#ff0000"/>
<text x="508" y="934.6" font-size="33" font-style="italic">VIP<tspan font-size="23" dx="1.6" dy="-12.5" letter-spacing="1.05">cre/cre</tspan><tspan dy="12.5">::Bmal1</tspan><tspan font-size="23" dx="0.6" dy="-12.5" letter-spacing="0.2">fl/fl</tspan></text>
<text x="508.5" y="968.5" font-size="33" font-style="italic">VIP<tspan font-size="23" dx="1.6" dy="-12.5" letter-spacing="0.95">cre/wt</tspan><tspan dy="12.5">::Bmal1</tspan><tspan font-size="23" dx="0.6" dy="-12.5" letter-spacing="0.2">fl/fl</tspan></text>
<circle cx="1386.3" cy="71.8" r="5.6" fill="#8d8dff"/>
<circle cx="1390.6" cy="85.5" r="5.6" fill="#8d8dff"/>
<circle cx="1381.9" cy="92.2" r="5.6" fill="#8d8dff"/>
<circle cx="1394.5" cy="106.9" r="5.6" fill="#8d8dff"/>
<circle cx="1378.2" cy="112.4" r="5.6" fill="#8d8dff"/>
<circle cx="1389.3" cy="115.9" r="5.6" fill="#8d8dff"/>
<circle cx="1383.2" cy="122.5" r="5.6" fill="#8d8dff"/>
<circle cx="1388" cy="100" r="5.6" fill="#8d8dff"/>
<circle cx="1417.1" cy="89.8" r="5.6" fill="#ff8080"/>
<circle cx="1429.6" cy="102.9" r="5.6" fill="#ff8080"/>
<circle cx="1431.2" cy="108.8" r="5.6" fill="#ff8080"/>
<circle cx="1415.9" cy="117.9" r="5.6" fill="#ff8080"/>
<circle cx="1425.7" cy="119.2" r="5.6" fill="#ff8080"/>
<circle cx="1430" cy="117.3" r="5.6" fill="#ff8080"/>
<circle cx="1421.2" cy="123.5" r="5.6" fill="#ff8080"/>
<circle cx="1414.1" cy="120.4" r="5.6" fill="#ff8080"/>
<circle cx="1485.7" cy="129.8" r="5.6" fill="#8d8dff"/>
<circle cx="1480.5" cy="138.1" r="5.6" fill="#8d8dff"/>
<circle cx="1491.2" cy="138.1" r="5.6" fill="#8d8dff"/>
<circle cx="1482" cy="147.9" r="5.6" fill="#8d8dff"/>
<circle cx="1488.1" cy="151.6" r="5.6" fill="#8d8dff"/>
<circle cx="1486" cy="144" r="5.6" fill="#8d8dff"/>
<circle cx="1523" cy="100.2" r="5.6" fill="#ff8080"/>
<circle cx="1523" cy="120.8" r="5.6" fill="#ff8080"/>
<circle cx="1530.4" cy="133.3" r="5.6" fill="#ff8080"/>
<circle cx="1516.3" cy="137.5" r="5.6" fill="#ff8080"/>
<circle cx="1529.8" cy="137.5" r="5.6" fill="#ff8080"/>
<circle cx="1520.6" cy="149.2" r="5.6" fill="#ff8080"/>
<circle cx="1525.5" cy="148" r="5.6" fill="#ff8080"/>
<circle cx="1578.9" cy="74.9" r="5.6" fill="#8d8dff"/>
<circle cx="1591.4" cy="69.6" r="5.6" fill="#8d8dff"/>
<circle cx="1579.2" cy="108.8" r="5.6" fill="#8d8dff"/>
<circle cx="1591.4" cy="107.5" r="5.6" fill="#8d8dff"/>
<circle cx="1585.3" cy="118.8" r="5.6" fill="#8d8dff"/>
<circle cx="1585.3" cy="135.5" r="5.6" fill="#8d8dff"/>
<circle cx="1622.4" cy="63.2" r="5.6" fill="#ff8080"/>
<circle cx="1622.4" cy="94.1" r="5.6" fill="#ff8080"/>
<circle cx="1630.6" cy="107.5" r="5.6" fill="#ff8080"/>
<circle cx="1614.7" cy="110" r="5.6" fill="#ff8080"/>
<circle cx="1615.9" cy="116.7" r="5.6" fill="#ff8080"/>
<circle cx="1628.1" cy="116.7" r="5.6" fill="#ff8080"/>
<circle cx="1620.8" cy="121" r="5.6" fill="#ff8080"/>
<circle cx="1624.5" cy="121.6" r="5.6" fill="#ff8080"/>
<circle cx="1678.1" cy="127.4" r="5.6" fill="#8d8dff"/>
<circle cx="1690.6" cy="135.7" r="5.6" fill="#8d8dff"/>
<circle cx="1677.1" cy="145.5" r="5.6" fill="#8d8dff"/>
<circle cx="1691.2" cy="146.7" r="5.6" fill="#8d8dff"/>
<circle cx="1682" cy="155.9" r="5.6" fill="#8d8dff"/>
<circle cx="1684" cy="150" r="5.6" fill="#8d8dff"/>
<circle cx="1722" cy="92.6" r="5.6" fill="#ff8080"/>
<circle cx="1715.7" cy="110.6" r="5.6" fill="#ff8080"/>
<circle cx="1727.3" cy="125.9" r="5.6" fill="#ff8080"/>
<circle cx="1717.5" cy="129.6" r="5.6" fill="#ff8080"/>
<circle cx="1727.3" cy="129.6" r="5.6" fill="#ff8080"/>
<circle cx="1721.2" cy="141.8" r="5.6" fill="#ff8080"/>
<circle cx="1724.9" cy="141.2" r="5.6" fill="#ff8080"/>
<path d="M1386.4 94.3V106.9M1380.4 94.3h12M1380.4 106.9h12" stroke="#000" stroke-width="2.1" fill="none"/>
<rect x="1374" y="98.1" width="24.8" height="5" fill="#000"/>
<path d="M1423.5 108.5V116.7M1417.5 108.5h12M1417.5 116.7h12" stroke="#000" stroke-width="2.1" fill="none"/>
<rect x="1411.3" y="110.2" width="24.4" height="5" fill="#000"/>
<path d="M1485.8 140.6V146.1M1479.8 140.6h12M1479.8 146.1h12" stroke="#000" stroke-width="2.1" fill="none"/>
<rect x="1473.4" y="140.8" width="24.8" height="5" fill="#000"/>
<path d="M1523.25 127.1V137.9M1517.25 127.1h12M1517.25 137.9h12" stroke="#000" stroke-width="2.1" fill="none"/>
<rect x="1511.2" y="130.8" width="24.1" height="5" fill="#000"/>
<path d="M1585.3 96.5V112.2M1579.3 96.5h12M1579.3 112.2h12" stroke="#000" stroke-width="2.1" fill="none"/>
<rect x="1572.8" y="102" width="25" height="5" fill="#000"/>
<path d="M1622.55 99V113M1616.55 99h12M1616.55 113h12" stroke="#000" stroke-width="2.1" fill="none"/>
<rect x="1610.2" y="103.6" width="24.7" height="5" fill="#000"/>
<path d="M1684.45 141.8V147.9M1678.45 141.8h12M1678.45 147.9h12" stroke="#000" stroke-width="2.1" fill="none"/>
<rect x="1672.2" y="142.4" width="24.5" height="5" fill="#000"/>
<path d="M1722 119.5V131.8M1716 119.5h12M1716 131.8h12" stroke="#000" stroke-width="2.1" fill="none"/>
<rect x="1709.6" y="122.8" width="24.8" height="5" fill="#000"/>
<line x1="1355.5" y1="32.4" x2="1355.5" y2="220.6" stroke="#000" stroke-width="2.4"/>
<line x1="1340" y1="219.6" x2="1755" y2="219.6" stroke="#000" stroke-width="2.4"/>
<line x1="1340" y1="33.4" x2="1355.5" y2="33.4" stroke="#000" stroke-width="2.4"/>
<text x="1325.5" y="42.8" font-size="30.5" text-anchor="end">80</text>
<line x1="1340" y1="80" x2="1355.5" y2="80" stroke="#000" stroke-width="2.4"/>
<text x="1325.5" y="89.4" font-size="30.5" text-anchor="end">60</text>
<line x1="1340" y1="126.5" x2="1355.5" y2="126.5" stroke="#000" stroke-width="2.4"/>
<text x="1325.5" y="135.9" font-size="30.5" text-anchor="end">40</text>
<line x1="1340" y1="173" x2="1355.5" y2="173" stroke="#000" stroke-width="2.4"/>
<text x="1325.5" y="182.4" font-size="30.5" text-anchor="end">20</text>
<line x1="1340" y1="219.6" x2="1355.5" y2="219.6" stroke="#000" stroke-width="2.4"/>
<text x="1325.5" y="229" font-size="30.5" text-anchor="end">0</text>
<text x="1406" y="257.9" font-size="29.5" text-anchor="middle">SD4</text>
<text x="1504.9" y="257.9" font-size="29.5" text-anchor="middle">SL4</text>
<text x="1603.7" y="257.9" font-size="29.5" text-anchor="middle">SD4</text>
<text x="1702" y="257.9" font-size="29.5" text-anchor="middle">SL5</text>
<text x="1458.2" y="40.5" font-size="32.3" letter-spacing="0.7">% of 12 h</text>
<text x="1676" y="37.4" font-size="41" font-weight="bold" letter-spacing="-3.5">b1</text>
<text x="0" y="0" font-size="30.6" text-anchor="middle" transform="translate(1260.9 125.5) rotate(-90)">Percentage of time</text>
<circle cx="1392.3" cy="644.5" r="5.6" fill="#8d8dff"/>
<circle cx="1397.8" cy="654" r="5.6" fill="#8d8dff"/>
<circle cx="1386.7" cy="656.2" r="5.6" fill="#8d8dff"/>
<circle cx="1392.3" cy="662" r="5.6" fill="#8d8dff"/>
<circle cx="1392.3" cy="670.1" r="5.6" fill="#8d8dff"/>
<circle cx="1398.4" cy="682.6" r="5.6" fill="#8d8dff"/>
<circle cx="1385.8" cy="691.5" r="5.6" fill="#8d8dff"/>
<circle cx="1424.9" cy="635.6" r="5.6" fill="#ff8080"/>
<circle cx="1434" cy="635.6" r="5.6" fill="#ff8080"/>
<circle cx="1422.3" cy="649" r="5.6" fill="#ff8080"/>
<circle cx="1436.8" cy="649" r="5.6" fill="#ff8080"/>
<circle cx="1426.8" cy="653.4" r="5.6" fill="#ff8080"/>
<circle cx="1432.3" cy="655.6" r="5.6" fill="#ff8080"/>
<circle cx="1429.2" cy="663.4" r="5.6" fill="#ff8080"/>
<circle cx="1487.4" cy="621.1" r="5.6" fill="#8d8dff"/>
<circle cx="1495.8" cy="621.1" r="5.6" fill="#8d8dff"/>
<circle cx="1500.2" cy="625.6" r="5.6" fill="#8d8dff"/>
<circle cx="1483.5" cy="631.7" r="5.6" fill="#8d8dff"/>
<circle cx="1489.1" cy="637.8" r="5.6" fill="#8d8dff"/>
<circle cx="1494.7" cy="637.8" r="5.6" fill="#8d8dff"/>
<circle cx="1528.8" cy="622" r="5.6" fill="#ff8080"/>
<circle cx="1522.5" cy="640.1" r="5.6" fill="#ff8080"/>
<circle cx="1534.7" cy="641.2" r="5.6" fill="#ff8080"/>
<circle cx="1523.6" cy="649" r="5.6" fill="#ff8080"/>
<circle cx="1532" cy="649" r="5.6" fill="#ff8080"/>
<circle cx="1528.8" cy="660.7" r="5.6" fill="#ff8080"/>
<circle cx="1591.2" cy="633.4" r="5.6" fill="#8d8dff"/>
<circle cx="1585.6" cy="652.9" r="5.6" fill="#8d8dff"/>
<circle cx="1596.5" cy="651.2" r="5.6" fill="#8d8dff"/>
<circle cx="1591.2" cy="663.4" r="5.6" fill="#8d8dff"/>
<circle cx="1597.3" cy="676.8" r="5.6" fill="#8d8dff"/>
<circle cx="1585" cy="689.6" r="5.6" fill="#8d8dff"/>
<circle cx="1622.1" cy="635.1" r="5.6" fill="#ff8080"/>
<circle cx="1634.3" cy="634.7" r="5.6" fill="#ff8080"/>
<circle cx="1633.5" cy="645.1" r="5.6" fill="#ff8080"/>
<circle cx="1622.3" cy="650.6" r="5.6" fill="#ff8080"/>
<circle cx="1628.4" cy="660.1" r="5.6" fill="#ff8080"/>
<circle cx="1628.2" cy="704.6" r="5.6" fill="#ff8080"/>
<circle cx="1631" cy="654" r="5.6" fill="#ff8080"/>
<circle cx="1684.7" cy="617.8" r="5.6" fill="#8d8dff"/>
<circle cx="1695.6" cy="616.1" r="5.6" fill="#8d8dff"/>
<circle cx="1690.2" cy="631.7" r="5.6" fill="#8d8dff"/>
<circle cx="1690.2" cy="651.8" r="5.6" fill="#8d8dff"/>
<circle cx="1693" cy="622" r="5.6" fill="#8d8dff"/>
<circle cx="1733.8" cy="629.2" r="5.6" fill="#ff8080"/>
<circle cx="1721.6" cy="639" r="5.6" fill="#ff8080"/>
<circle cx="1735.9" cy="646.7" r="5.6" fill="#ff8080"/>
<circle cx="1719.7" cy="646.7" r="5.6" fill="#ff8080"/>
<circle cx="1724.7" cy="657.3" r="5.6" fill="#ff8080"/>
<circle cx="1733.8" cy="667.3" r="5.6" fill="#ff8080"/>
<circle cx="1721.6" cy="679.6" r="5.6" fill="#ff8080"/>
<circle cx="1731" cy="660" r="5.6" fill="#ff8080"/>
<path d="M1392.35 659.5V670.7M1386.35 659.5h12M1386.35 670.7h12" stroke="#000" stroke-width="2.1" fill="none"/>
<rect x="1380" y="662.9" width="24.7" height="5" fill="#000"/>
<path d="M1429.4 644V651.2M1423.4 644h12M1423.4 651.2h12" stroke="#000" stroke-width="2.1" fill="none"/>
<rect x="1417" y="645.1" width="24.8" height="5" fill="#000"/>
<path d="M1491.55 628V631.6M1485.55 628h12M1485.55 631.6h12" stroke="#000" stroke-width="2.1" fill="none"/>
<rect x="1479.3" y="627.3" width="24.5" height="5" fill="#000"/>
<path d="M1528.9 640V648.1M1522.9 640h12M1522.9 648.1h12" stroke="#000" stroke-width="2.1" fill="none"/>
<rect x="1516.4" y="641.8" width="25" height="5" fill="#000"/>
<path d="M1591.25 654.5V666.6M1585.25 654.5h12M1585.25 666.6h12" stroke="#000" stroke-width="2.1" fill="none"/>
<rect x="1578.9" y="658.2" width="24.7" height="5" fill="#000"/>
<path d="M1628.45 646.2V662.5M1622.45 646.2h12M1622.45 662.5h12" stroke="#000" stroke-width="2.1" fill="none"/>
<rect x="1615.9" y="652" width="25.1" height="5" fill="#000"/>
<path d="M1690.35 621.7V630.6M1684.35 621.7h12M1684.35 630.6h12" stroke="#000" stroke-width="2.1" fill="none"/>
<rect x="1678" y="624" width="24.7" height="5" fill="#000"/>
<path d="M1727.9 647.3V659M1721.9 647.3h12M1721.9 659h12" stroke="#000" stroke-width="2.1" fill="none"/>
<rect x="1715.3" y="650.9" width="25.2" height="5" fill="#000"/>
<line x1="1361.3" y1="581.6" x2="1361.3" y2="768.5" stroke="#000" stroke-width="2.4"/>
<line x1="1345.9" y1="767.5" x2="1760.1" y2="767.5" stroke="#000" stroke-width="2.4"/>
<line x1="1345.9" y1="582.6" x2="1361.3" y2="582.6" stroke="#000" stroke-width="2.4"/>
<text x="1330" y="592" font-size="30.5" text-anchor="end">80</text>
<line x1="1345.9" y1="629.1" x2="1361.3" y2="629.1" stroke="#000" stroke-width="2.4"/>
<text x="1330" y="638.5" font-size="30.5" text-anchor="end">60</text>
<line x1="1345.9" y1="675.1" x2="1361.3" y2="675.1" stroke="#000" stroke-width="2.4"/>
<text x="1330" y="684.5" font-size="30.5" text-anchor="end">40</text>
<line x1="1345.9" y1="721.6" x2="1361.3" y2="721.6" stroke="#000" stroke-width="2.4"/>
<text x="1330" y="731" font-size="30.5" text-anchor="end">20</text>
<line x1="1345.9" y1="767.5" x2="1361.3" y2="767.5" stroke="#000" stroke-width="2.4"/>
<text x="1330" y="776.9" font-size="30.5" text-anchor="end">0</text>
<text x="1410.3" y="809" font-size="29.5" text-anchor="middle">SD4</text>
<text x="1511.1" y="809" font-size="29.5" text-anchor="middle">SL4</text>
<text x="1614.5" y="809" font-size="29.5" text-anchor="middle">SD4</text>
<text x="1706" y="809" font-size="29.5" text-anchor="middle">SL5</text>
<text x="1475" y="590.8" font-size="28.5" letter-spacing="0.46">% of 12 h</text>
<text x="1676" y="589.6" font-size="41" font-weight="bold" letter-spacing="0.8">b2</text>
<text x="0" y="0" font-size="29.6" text-anchor="middle" transform="translate(1261.9 674.2) rotate(-90)">Percentage of time</text>
<circle cx="1392.3" cy="1212.6" r="5.6" fill="#8d8dff"/>
<circle cx="1398.4" cy="1229.9" r="5.6" fill="#8d8dff"/>
<circle cx="1386.2" cy="1240.2" r="5.6" fill="#8d8dff"/>
<circle cx="1383.4" cy="1254.1" r="5.6" fill="#8d8dff"/>
<circle cx="1400.1" cy="1254.6" r="5.6" fill="#8d8dff"/>
<circle cx="1389.5" cy="1260.2" r="5.6" fill="#8d8dff"/>
<circle cx="1395.4" cy="1262.4" r="5.6" fill="#8d8dff"/>
<circle cx="1392.3" cy="1290" r="5.6" fill="#8d8dff"/>
<circle cx="1435.7" cy="1193.2" r="5.6" fill="#ff8080"/>
<circle cx="1423.2" cy="1202.5" r="5.6" fill="#ff8080"/>
<circle cx="1421.8" cy="1211.2" r="5.6" fill="#ff8080"/>
<circle cx="1437.9" cy="1211.2" r="5.6" fill="#ff8080"/>
<circle cx="1432.3" cy="1227.4" r="5.6" fill="#ff8080"/>
<circle cx="1435.7" cy="1265.5" r="5.6" fill="#ff8080"/>
<circle cx="1423.2" cy="1276.7" r="5.6" fill="#ff8080"/>
<circle cx="1426.8" cy="1210" r="5.6" fill="#ff8080"/>
<circle cx="1491.9" cy="1157.6" r="5.6" fill="#8d8dff"/>
<circle cx="1497.5" cy="1172.3" r="5.6" fill="#8d8dff"/>
<circle cx="1486.9" cy="1182.3" r="5.6" fill="#8d8dff"/>
<circle cx="1494" cy="1183.4" r="5.6" fill="#8d8dff"/>
<circle cx="1498" cy="1214.3" r="5.6" fill="#8d8dff"/>
<circle cx="1485.5" cy="1221.8" r="5.6" fill="#8d8dff"/>
<circle cx="1529" cy="1163.4" r="5.6" fill="#ff8080"/>
<circle cx="1524.5" cy="1201.8" r="5.6" fill="#ff8080"/>
<circle cx="1533.1" cy="1207.3" r="5.6" fill="#ff8080"/>
<circle cx="1533.1" cy="1219.9" r="5.6" fill="#ff8080"/>
<circle cx="1524.5" cy="1231.3" r="5.6" fill="#ff8080"/>
<circle cx="1529.2" cy="1231.3" r="5.6" fill="#ff8080"/>
<circle cx="1529" cy="1275.6" r="5.6" fill="#ff8080"/>
<circle cx="1595.6" cy="1205.1" r="5.6" fill="#8d8dff"/>
<circle cx="1586.7" cy="1210.3" r="5.6" fill="#8d8dff"/>
<circle cx="1591.4" cy="1216.2" r="5.6" fill="#8d8dff"/>
<circle cx="1597.3" cy="1239.1" r="5.6" fill="#8d8dff"/>
<circle cx="1578.4" cy="1243.5" r="5.6" fill="#8d8dff"/>
<circle cx="1585" cy="1249.6" r="5.6" fill="#8d8dff"/>
<circle cx="1597.3" cy="1263.8" r="5.6" fill="#8d8dff"/>
<circle cx="1591.4" cy="1289.4" r="5.6" fill="#8d8dff"/>
<circle cx="1620.7" cy="1193.6" r="5.6" fill="#ff8080"/>
<circle cx="1636.6" cy="1193.6" r="5.6" fill="#ff8080"/>
<circle cx="1631.2" cy="1204.3" r="5.6" fill="#ff8080"/>
<circle cx="1624.6" cy="1206.8" r="5.6" fill="#ff8080"/>
<circle cx="1632.3" cy="1217.9" r="5.6" fill="#ff8080"/>
<circle cx="1623.4" cy="1222.4" r="5.6" fill="#ff8080"/>
<circle cx="1628.4" cy="1232.9" r="5.6" fill="#ff8080"/>
<circle cx="1628.4" cy="1264.7" r="5.6" fill="#ff8080"/>
<circle cx="1686" cy="1160" r="5.6" fill="#8d8dff"/>
<circle cx="1695.2" cy="1165.8" r="5.6" fill="#8d8dff"/>
<circle cx="1690.4" cy="1170.6" r="5.6" fill="#8d8dff"/>
<circle cx="1684.1" cy="1179.5" r="5.6" fill="#8d8dff"/>
<circle cx="1696.9" cy="1195.6" r="5.6" fill="#8d8dff"/>
<circle cx="1686" cy="1202.5" r="5.6" fill="#8d8dff"/>
<circle cx="1694.7" cy="1209" r="5.6" fill="#8d8dff"/>
<circle cx="1690.2" cy="1213.5" r="5.6" fill="#8d8dff"/>
<circle cx="1734.2" cy="1175.8" r="5.6" fill="#ff8080"/>
<circle cx="1721.9" cy="1186.2" r="5.6" fill="#ff8080"/>
<circle cx="1733.4" cy="1187.3" r="5.6" fill="#ff8080"/>
<circle cx="1724" cy="1195" r="5.6" fill="#ff8080"/>
<circle cx="1728.1" cy="1203.4" r="5.6" fill="#ff8080"/>
<circle cx="1728.1" cy="1242.6" r="5.6" fill="#ff8080"/>
<path d="M1392.45 1241.8V1258.2M1386.45 1241.8h12M1386.45 1258.2h12" stroke="#000" stroke-width="2.1" fill="none"/>
<rect x="1380" y="1247.9" width="24.9" height="5" fill="#000"/>
<path d="M1429.45 1214.3V1235.7M1423.45 1214.3h12M1423.45 1235.7h12" stroke="#000" stroke-width="2.1" fill="none"/>
<rect x="1417.1" y="1222.6" width="24.7" height="5" fill="#000"/>
<path d="M1491.9 1180.3V1195.6M1485.9 1180.3h12M1485.9 1195.6h12" stroke="#000" stroke-width="2.1" fill="none"/>
<rect x="1479.3" y="1185.6" width="25.2" height="5" fill="#000"/>
<path d="M1528.9 1206.2V1228.8M1522.9 1206.2h12M1522.9 1228.8h12" stroke="#000" stroke-width="2.1" fill="none"/>
<rect x="1516.4" y="1215.2" width="25" height="5" fill="#000"/>
<path d="M1591.3 1229.3V1250.7M1585.3 1229.3h12M1585.3 1250.7h12" stroke="#000" stroke-width="2.1" fill="none"/>
<rect x="1578.9" y="1237.4" width="24.8" height="5" fill="#000"/>
<path d="M1628.6 1208.8V1225.7M1622.6 1208.8h12M1622.6 1225.7h12" stroke="#000" stroke-width="2.1" fill="none"/>
<rect x="1616.2" y="1214.3" width="24.8" height="5" fill="#000"/>
<path d="M1690.5 1179.8V1194.5M1684.5 1179.8h12M1684.5 1194.5h12" stroke="#000" stroke-width="2.1" fill="none"/>
<rect x="1678.2" y="1185.1" width="24.6" height="5" fill="#000"/>
<path d="M1728.05 1189.5V1204M1722.05 1189.5h12M1722.05 1204h12" stroke="#000" stroke-width="2.1" fill="none"/>
<rect x="1715.6" y="1194.3" width="24.9" height="5" fill="#000"/>
<line x1="1361.3" y1="1130.1" x2="1361.3" y2="1317.9" stroke="#000" stroke-width="2.4"/>
<line x1="1345.9" y1="1316.9" x2="1760.1" y2="1316.9" stroke="#000" stroke-width="2.4"/>
<line x1="1345.9" y1="1131.1" x2="1361.3" y2="1131.1" stroke="#000" stroke-width="2.4"/>
<text x="1330" y="1140.5" font-size="30.5" text-anchor="end">10</text>
<line x1="1345.9" y1="1168.7" x2="1361.3" y2="1168.7" stroke="#000" stroke-width="2.4"/>
<text x="1330" y="1178.1" font-size="30.5" text-anchor="end">8</text>
<line x1="1345.9" y1="1205.6" x2="1361.3" y2="1205.6" stroke="#000" stroke-width="2.4"/>
<text x="1330" y="1215" font-size="30.5" text-anchor="end">6</text>
<line x1="1345.9" y1="1242.5" x2="1361.3" y2="1242.5" stroke="#000" stroke-width="2.4"/>
<text x="1330" y="1251.9" font-size="30.5" text-anchor="end">4</text>
<line x1="1345.9" y1="1279.5" x2="1361.3" y2="1279.5" stroke="#000" stroke-width="2.4"/>
<text x="1330" y="1288.9" font-size="30.5" text-anchor="end">2</text>
<line x1="1345.9" y1="1316.9" x2="1361.3" y2="1316.9" stroke="#000" stroke-width="2.4"/>
<text x="1330" y="1326.3" font-size="30.5" text-anchor="end">0</text>
<text x="1410" y="1355.9" font-size="29.5" text-anchor="middle">SD4</text>
<text x="1511.1" y="1355.9" font-size="29.5" text-anchor="middle">SL4</text>
<text x="1614.5" y="1355.9" font-size="29.5" text-anchor="middle">SD4</text>
<text x="1706" y="1355.9" font-size="29.5" text-anchor="middle">SL5</text>
<text x="1473" y="1133.8" font-size="28.5" letter-spacing="0.54">% of 12 h</text>
<text x="1687" y="1136.6" font-size="41" font-weight="bold" letter-spacing="0.8">b3</text>
<text x="0" y="0" font-size="29.6" text-anchor="middle" transform="translate(1273.1 1223.3) rotate(-90)">Percentage of time</text>
<rect x="1689.1" y="708.4" width="39" height="3.3" fill="#000"/>
<line x1="1361.3" y1="293.6" x2="1361.3" y2="482" stroke="#000" stroke-width="2.4"/>
<line x1="1346.6" y1="481" x2="1522.1" y2="481" stroke="#000" stroke-width="2.4"/>
<line x1="1346.6" y1="294.6" x2="1361.3" y2="294.6" stroke="#000" stroke-width="2.4"/>
<text x="1332" y="302.6" font-size="29.5" text-anchor="end">50</text>
<line x1="1346.6" y1="356.9" x2="1361.3" y2="356.9" stroke="#000" stroke-width="2.4"/>
<text x="1332" y="363.7" font-size="29.5" text-anchor="end">45</text>
<line x1="1346.6" y1="418.7" x2="1361.3" y2="418.7" stroke="#000" stroke-width="2.4"/>
<text x="1332" y="426.2" font-size="29.5" text-anchor="end">40</text>
<line x1="1346.6" y1="481" x2="1361.3" y2="481" stroke="#000" stroke-width="2.4"/>
<text x="1332" y="487.8" font-size="29.5" text-anchor="end">35</text>
<text x="1389.5" y="299.9" font-size="25.4">% of 24 h</text>
<text x="1399.1" y="517.5" font-size="29.6" text-anchor="middle">DD4</text>
<text x="1478.5" y="517.5" font-size="29.6" text-anchor="middle">DD5</text>
<path d="M1401.4 383.3V409.5M1481.2 329.5V389.1" stroke="#ff0000" stroke-width="2.3" fill="none"/>
<path d="M1395.9 383.3h11M1395.9 409.5h11M1475.7 329.5h11M1475.7 389.1h11" stroke="#ff0000" stroke-width="2.6" fill="none"/>
<polyline points="1401.4,396.4 1481.2,359.1" stroke="#ff0000" stroke-width="5" fill="none" stroke-linejoin="round"/>
<circle cx="1401.4" cy="396.4" r="5.8" fill="#ff0000"/>
<circle cx="1481.2" cy="359.1" r="5.8" fill="#ff0000"/>
<path d="M1401.4 373.1V409.3M1481.2 385.2V428.8" stroke="#0000ff" stroke-width="2.3" fill="none"/>
<path d="M1395.9 373.1h11M1395.9 409.3h11M1475.7 385.2h11M1475.7 428.8h11" stroke="#0000ff" stroke-width="2.6" fill="none"/>
<polyline points="1401.4,391.4 1481.2,407" stroke="#0000ff" stroke-width="5" fill="none" stroke-linejoin="round"/>
<circle cx="1401.4" cy="391.4" r="5.8" fill="#0000ff"/>
<circle cx="1481.2" cy="407" r="5.8" fill="#0000ff"/>
<line x1="1631.2" y1="292.4" x2="1631.2" y2="479.9" stroke="#000" stroke-width="2.4"/>
<line x1="1616.4" y1="478.9" x2="1792" y2="478.9" stroke="#000" stroke-width="2.4"/>
<line x1="1616.4" y1="293.4" x2="1631.2" y2="293.4" stroke="#000" stroke-width="2.4"/>
<text x="1602" y="302.6" font-size="29.5" text-anchor="end">1.8</text>
<line x1="1616.4" y1="340.1" x2="1631.2" y2="340.1" stroke="#000" stroke-width="2.4"/>
<text x="1602" y="349.3" font-size="29.5" text-anchor="end">1.6</text>
<line x1="1616.4" y1="386.5" x2="1631.2" y2="386.5" stroke="#000" stroke-width="2.4"/>
<text x="1602" y="395.7" font-size="29.5" text-anchor="end">1.4</text>
<line x1="1616.4" y1="432.7" x2="1631.2" y2="432.7" stroke="#000" stroke-width="2.4"/>
<text x="1602" y="441.9" font-size="29.5" text-anchor="end">1.2</text>
<line x1="1616.4" y1="478.9" x2="1631.2" y2="478.9" stroke="#000" stroke-width="2.4"/>
<text x="1602" y="487.8" font-size="29.5" text-anchor="end">1.0</text>
<text x="1646.5" y="299.9" font-size="25.4">SD/SL ratio</text>
<text x="1664.7" y="517.5" font-size="29.6" text-anchor="middle">DD4</text>
<text x="1748" y="517.5" font-size="29.6" text-anchor="middle">DD5</text>
<path d="M1671.2 391.1V438.9M1751.1 410.1V443.6" stroke="#ff0000" stroke-width="2.3" fill="none"/>
<path d="M1665.7 391.1h11M1665.7 438.9h11M1745.6 410.1h11M1745.6 443.6h11" stroke="#ff0000" stroke-width="2.6" fill="none"/>
<polyline points="1671.2,415.6 1751.1,426.9" stroke="#ff0000" stroke-width="5" fill="none" stroke-linejoin="round"/>
<circle cx="1671.2" cy="415.6" r="5.8" fill="#ff0000"/>
<circle cx="1751.1" cy="426.9" r="5.8" fill="#ff0000"/>
<path d="M1671.2 328.9V370.4M1751.1 320.1V378.7" stroke="#0000ff" stroke-width="2.3" fill="none"/>
<path d="M1665.7 328.9h11M1665.7 370.4h11M1745.6 320.1h11M1745.6 378.7h11" stroke="#0000ff" stroke-width="2.6" fill="none"/>
<polyline points="1671.2,349.4 1751.1,349.4" stroke="#0000ff" stroke-width="5" fill="none" stroke-linejoin="round"/>
<circle cx="1671.2" cy="349.4" r="5.8" fill="#0000ff"/>
<circle cx="1751.1" cy="349.4" r="5.8" fill="#0000ff"/>
<line x1="1359.7" y1="838.9" x2="1359.7" y2="1027" stroke="#000" stroke-width="2.4"/>
<line x1="1345.1" y1="1026" x2="1520.5" y2="1026" stroke="#000" stroke-width="2.4"/>
<line x1="1345.1" y1="839.9" x2="1359.7" y2="839.9" stroke="#000" stroke-width="2.4"/>
<text x="1329.5" y="849.1" font-size="29.5" text-anchor="end">60</text>
<line x1="1345.1" y1="886.6" x2="1359.7" y2="886.6" stroke="#000" stroke-width="2.4"/>
<text x="1329.5" y="895.3" font-size="29.5" text-anchor="end">55</text>
<line x1="1345.1" y1="933" x2="1359.7" y2="933" stroke="#000" stroke-width="2.4"/>
<text x="1329.5" y="941.5" font-size="29.5" text-anchor="end">50</text>
<line x1="1345.1" y1="979.7" x2="1359.7" y2="979.7" stroke="#000" stroke-width="2.4"/>
<text x="1329.5" y="987.8" font-size="29.5" text-anchor="end">45</text>
<line x1="1345.1" y1="1026" x2="1359.7" y2="1026" stroke="#000" stroke-width="2.4"/>
<text x="1329.5" y="1033.6" font-size="29.5" text-anchor="end">40</text>
<text x="1388.5" y="852" font-size="25.4">% of 24 h</text>
<text x="1393.7" y="1064.1" font-size="29.6" text-anchor="middle">DD4</text>
<text x="1476.8" y="1064.1" font-size="29.6" text-anchor="middle">DD5</text>
<path d="M1399.6 900.3V914.6M1479.3 916.2V962.6" stroke="#ff0000" stroke-width="2.3" fill="none"/>
<path d="M1394.1 900.3h11M1394.1 914.6h11M1473.8 916.2h11M1473.8 962.6h11" stroke="#ff0000" stroke-width="2.6" fill="none"/>
<polyline points="1399.6,907.2 1479.3,939.6" stroke="#ff0000" stroke-width="5" fill="none" stroke-linejoin="round"/>
<circle cx="1399.6" cy="907.2" r="5.8" fill="#ff0000"/>
<circle cx="1479.3" cy="939.6" r="5.8" fill="#ff0000"/>
<path d="M1399.6 901.1V927.1M1479.3 883.5V911.8" stroke="#0000ff" stroke-width="2.3" fill="none"/>
<path d="M1394.1 901.1h11M1394.1 927.1h11M1473.8 883.5h11M1473.8 911.8h11" stroke="#0000ff" stroke-width="2.6" fill="none"/>
<polyline points="1399.6,914.3 1479.3,897.8" stroke="#0000ff" stroke-width="5" fill="none" stroke-linejoin="round"/>
<circle cx="1399.6" cy="914.3" r="5.8" fill="#0000ff"/>
<circle cx="1479.3" cy="897.8" r="5.8" fill="#0000ff"/>
<line x1="1631.2" y1="838.9" x2="1631.2" y2="1027" stroke="#000" stroke-width="2.4"/>
<line x1="1616.4" y1="1026" x2="1792" y2="1026" stroke="#000" stroke-width="2.4"/>
<line x1="1616.4" y1="839.9" x2="1631.2" y2="839.9" stroke="#000" stroke-width="2.4"/>
<text x="1602" y="852.2" font-size="29.5" text-anchor="end">1.2</text>
<line x1="1616.4" y1="871" x2="1631.2" y2="871" stroke="#000" stroke-width="2.4"/>
<text x="1602" y="882.8" font-size="29.5" text-anchor="end">1.1</text>
<line x1="1616.4" y1="902.5" x2="1631.2" y2="902.5" stroke="#000" stroke-width="2.4"/>
<text x="1602" y="914.1" font-size="29.5" text-anchor="end">1.0</text>
<line x1="1616.4" y1="933.6" x2="1631.2" y2="933.6" stroke="#000" stroke-width="2.4"/>
<text x="1602" y="944.9" font-size="29.5" text-anchor="end">0.9</text>
<line x1="1616.4" y1="964.5" x2="1631.2" y2="964.5" stroke="#000" stroke-width="2.4"/>
<text x="1602" y="975.6" font-size="29.5" text-anchor="end">0.8</text>
<line x1="1616.4" y1="995.6" x2="1631.2" y2="995.6" stroke="#000" stroke-width="2.4"/>
<text x="1602" y="1006.5" font-size="29.5" text-anchor="end">0.7</text>
<line x1="1616.4" y1="1026" x2="1631.2" y2="1026" stroke="#000" stroke-width="2.4"/>
<text x="1602" y="1036.7" font-size="29.5" text-anchor="end">0.6</text>
<text x="1652.7" y="853.6" font-size="25.4">SD/SL ratio</text>
<text x="1666.7" y="1064.1" font-size="29.6" text-anchor="middle">DD4</text>
<text x="1750.1" y="1064.1" font-size="29.6" text-anchor="middle">DD5</text>
<path d="M1671.2 892.1V922.4M1751.1 883.5V925.5" stroke="#ff0000" stroke-width="2.3" fill="none"/>
<path d="M1665.7 892.1h11M1665.7 922.4h11M1745.6 883.5h11M1745.6 925.5h11" stroke="#ff0000" stroke-width="2.6" fill="none"/>
<polyline points="1671.2,907.2 1751.1,904.5" stroke="#ff0000" stroke-width="5" fill="none" stroke-linejoin="round"/>
<circle cx="1671.2" cy="907.2" r="5.8" fill="#ff0000"/>
<circle cx="1751.1" cy="904.5" r="5.8" fill="#ff0000"/>
<path d="M1671.2 969.1V993.7M1751.1 959.8V991.2" stroke="#0000ff" stroke-width="2.3" fill="none"/>
<path d="M1665.7 969.1h11M1665.7 993.7h11M1745.6 959.8h11M1745.6 991.2h11" stroke="#0000ff" stroke-width="2.6" fill="none"/>
<polyline points="1671.2,981.6 1751.1,975.7" stroke="#0000ff" stroke-width="5" fill="none" stroke-linejoin="round"/>
<circle cx="1671.2" cy="981.6" r="5.8" fill="#0000ff"/>
<circle cx="1751.1" cy="975.7" r="5.8" fill="#0000ff"/>
<line x1="1357.1" y1="1420.5" x2="1357.1" y2="1608.6" stroke="#000" stroke-width="2.4"/>
<line x1="1342" y1="1607.6" x2="1517.7" y2="1607.6" stroke="#000" stroke-width="2.4"/>
<line x1="1342" y1="1421.5" x2="1357.1" y2="1421.5" stroke="#000" stroke-width="2.4"/>
<text x="1327.5" y="1429.2" font-size="29.5" text-anchor="end">7</text>
<line x1="1342" y1="1483.5" x2="1357.1" y2="1483.5" stroke="#000" stroke-width="2.4"/>
<text x="1327.5" y="1491.4" font-size="29.5" text-anchor="end">6</text>
<line x1="1342" y1="1545.6" x2="1357.1" y2="1545.6" stroke="#000" stroke-width="2.4"/>
<text x="1327.5" y="1553.2" font-size="29.5" text-anchor="end">5</text>
<line x1="1342" y1="1607.6" x2="1357.1" y2="1607.6" stroke="#000" stroke-width="2.4"/>
<text x="1327.5" y="1614.7" font-size="29.5" text-anchor="end">4</text>
<text x="1388" y="1434.4" font-size="25.4">% of 24 h</text>
<text x="1397.8" y="1647.3" font-size="29.6" text-anchor="middle">DD4</text>
<text x="1480.2" y="1647.3" font-size="29.6" text-anchor="middle">DD5</text>
<path d="M1397 1503.7V1566.9M1476.5 1472.1V1503.2" stroke="#ff0000" stroke-width="2.3" fill="none"/>
<path d="M1391.5 1503.7h11M1391.5 1566.9h11M1471 1472.1h11M1471 1503.2h11" stroke="#ff0000" stroke-width="2.6" fill="none"/>
<polyline points="1397,1535 1476.5,1487.6" stroke="#ff0000" stroke-width="5" fill="none" stroke-linejoin="round"/>
<circle cx="1397" cy="1535" r="5.8" fill="#ff0000"/>
<circle cx="1476.5" cy="1487.6" r="5.8" fill="#ff0000"/>
<path d="M1397 1508.7V1547.6M1476.5 1492.3V1527.1" stroke="#0000ff" stroke-width="2.3" fill="none"/>
<path d="M1391.5 1508.7h11M1391.5 1547.6h11M1471 1492.3h11M1471 1527.1h11" stroke="#0000ff" stroke-width="2.6" fill="none"/>
<polyline points="1397,1528.3 1476.5,1509.9" stroke="#0000ff" stroke-width="5" fill="none" stroke-linejoin="round"/>
<circle cx="1397" cy="1528.3" r="5.8" fill="#0000ff"/>
<circle cx="1476.5" cy="1509.9" r="5.8" fill="#0000ff"/>
<line x1="1636.7" y1="1422.5" x2="1636.7" y2="1609.8" stroke="#000" stroke-width="2.4"/>
<line x1="1621.7" y1="1608.8" x2="1797" y2="1608.8" stroke="#000" stroke-width="2.4"/>
<line x1="1621.7" y1="1423.5" x2="1636.7" y2="1423.5" stroke="#000" stroke-width="2.4"/>
<text x="1607" y="1434" font-size="29.5" text-anchor="end">1.5</text>
<line x1="1621.7" y1="1485.6" x2="1636.7" y2="1485.6" stroke="#000" stroke-width="2.4"/>
<text x="1607" y="1495.6" font-size="29.5" text-anchor="end">1.0</text>
<line x1="1621.7" y1="1547.3" x2="1636.7" y2="1547.3" stroke="#000" stroke-width="2.4"/>
<text x="1607" y="1557.2" font-size="29.5" text-anchor="end">0.5</text>
<line x1="1621.7" y1="1608.8" x2="1636.7" y2="1608.8" stroke="#000" stroke-width="2.4"/>
<text x="1607" y="1618.8" font-size="29.5" text-anchor="end">0.0</text>
<text x="1658" y="1434.4" font-size="25.4">SD/SL ratio</text>
<text x="1672" y="1647.3" font-size="29.6" text-anchor="middle">DD4</text>
<text x="1755" y="1647.3" font-size="29.6" text-anchor="middle">DD5</text>
<path d="M1676.1 1475.5V1501.5M1755.8 1485.2V1516.6" stroke="#ff0000" stroke-width="2.3" fill="none"/>
<path d="M1670.6 1475.5h11M1670.6 1501.5h11M1750.3 1485.2h11M1750.3 1516.6h11" stroke="#ff0000" stroke-width="2.6" fill="none"/>
<polyline points="1676.1,1488.6 1755.8,1500.6" stroke="#ff0000" stroke-width="5" fill="none" stroke-linejoin="round"/>
<circle cx="1676.1" cy="1488.6" r="5.8" fill="#ff0000"/>
<circle cx="1755.8" cy="1500.6" r="5.8" fill="#ff0000"/>
<path d="M1676.1 1536.2V1551.8M1755.8 1521.1V1544.2" stroke="#0000ff" stroke-width="2.3" fill="none"/>
<path d="M1670.6 1536.2h11M1670.6 1551.8h11M1750.3 1521.1h11M1750.3 1544.2h11" stroke="#0000ff" stroke-width="2.6" fill="none"/>
<polyline points="1676.1,1543.9 1755.8,1532.8" stroke="#0000ff" stroke-width="5" fill="none" stroke-linejoin="round"/>
<circle cx="1676.1" cy="1543.9" r="5.8" fill="#0000ff"/>
<circle cx="1755.8" cy="1532.8" r="5.8" fill="#0000ff"/>
<text x="1661.4" y="935.4" font-size="20.5" text-anchor="middle" style="font-family:'DejaVu Sans',sans-serif" transform="rotate(90 1661.4 935.4)">&#x273B;</text>
<text x="1661.4" y="953.8" font-size="20.5" text-anchor="middle" style="font-family:'DejaVu Sans',sans-serif" transform="rotate(90 1661.4 953.8)">&#x273B;</text>
<text x="1755.4" y="932" font-size="20.5" text-anchor="middle" style="font-family:'DejaVu Sans',sans-serif" transform="rotate(90 1755.4 932)">&#x273B;</text>
<text x="1755.4" y="950.2" font-size="20.5" text-anchor="middle" style="font-family:'DejaVu Sans',sans-serif" transform="rotate(90 1755.4 950.2)">&#x273B;</text>
<text x="1660.9" y="1509.6" font-size="20.5" text-anchor="middle" style="font-family:'DejaVu Sans',sans-serif" transform="rotate(90 1660.9 1509.6)">&#x273B;</text>
<text x="1660.9" y="1527.9" font-size="20.5" text-anchor="middle" style="font-family:'DejaVu Sans',sans-serif" transform="rotate(90 1660.9 1527.9)">&#x273B;</text>
<text x="1698.8" y="726.6" font-size="20.5" text-anchor="middle" style="font-family:'DejaVu Sans',sans-serif" transform="rotate(90 1698.8 726.6)">&#x273B;</text>
</svg></body></html>
